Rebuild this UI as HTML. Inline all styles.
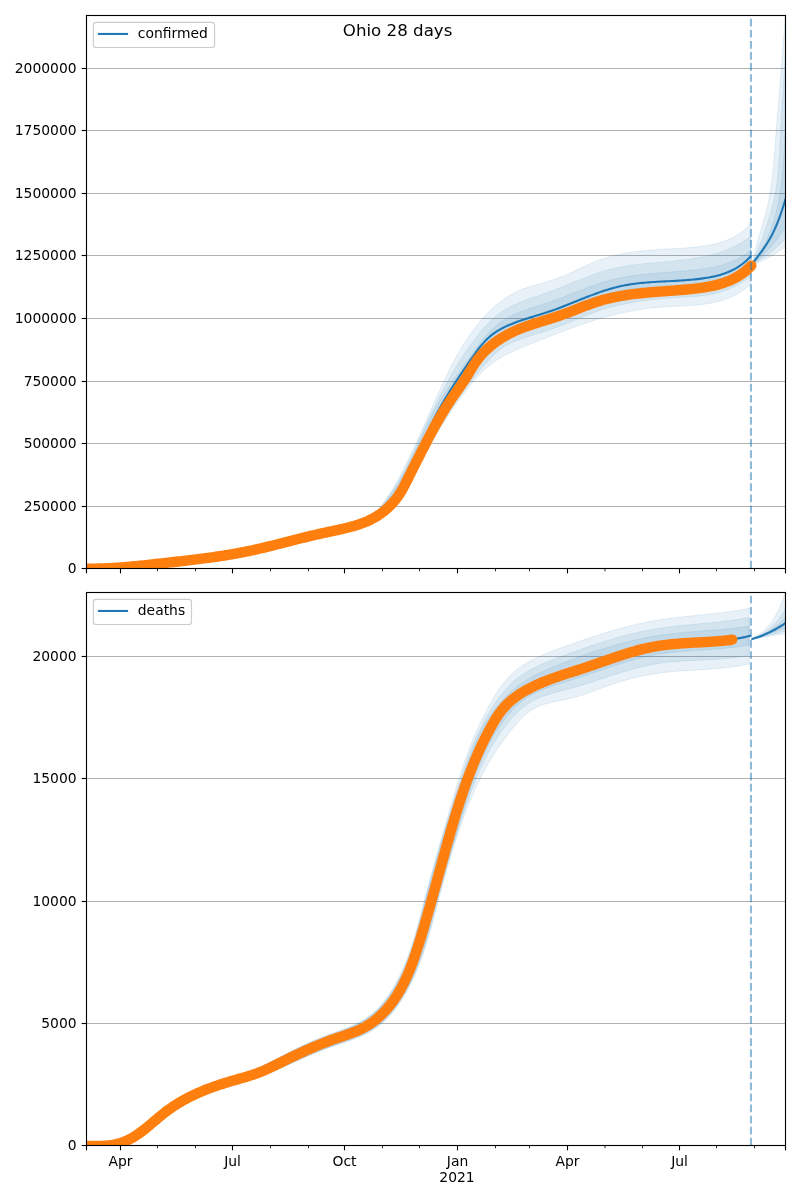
<!DOCTYPE html>
<html><head><meta charset="utf-8"><title>Ohio 28 days</title>
<style>
html,body{margin:0;padding:0;background:#fff;width:800px;height:1200px;overflow:hidden}
svg{display:block;will-change:transform}
.t{font-family:'DejaVu Sans','Liberation Sans',sans-serif;font-size:13.89px;fill:#000}
</style></head><body>
<svg width="800" height="1200" viewBox="0 0 800 1200">
<rect width="800" height="1200" fill="#fff"/>
<defs>
<clipPath id="c1"><rect x="86.5" y="15.5" width="699.0" height="553.0"/></clipPath>
<clipPath id="c2"><rect x="86.5" y="592.5" width="699.0" height="553.0"/></clipPath>
</defs>
<line x1="86.5" y1="506.5" x2="785.5" y2="506.5" stroke="#b0b0b0" stroke-width="1.11"/>
<line x1="86.5" y1="443.5" x2="785.5" y2="443.5" stroke="#b0b0b0" stroke-width="1.11"/>
<line x1="86.5" y1="381.5" x2="785.5" y2="381.5" stroke="#b0b0b0" stroke-width="1.11"/>
<line x1="86.5" y1="318.5" x2="785.5" y2="318.5" stroke="#b0b0b0" stroke-width="1.11"/>
<line x1="86.5" y1="255.5" x2="785.5" y2="255.5" stroke="#b0b0b0" stroke-width="1.11"/>
<line x1="86.5" y1="193.5" x2="785.5" y2="193.5" stroke="#b0b0b0" stroke-width="1.11"/>
<line x1="86.5" y1="130.5" x2="785.5" y2="130.5" stroke="#b0b0b0" stroke-width="1.11"/>
<line x1="86.5" y1="68.5" x2="785.5" y2="68.5" stroke="#b0b0b0" stroke-width="1.11"/>
<g clip-path="url(#c1)"><path d="M360.00,526.50 L361.76,525.62 L363.45,524.65 L365.07,523.59 L366.63,522.45 L368.13,521.23 L369.58,519.95 L370.98,518.60 L372.34,517.20 L373.66,515.75 L374.94,514.25 L376.19,512.72 L377.42,511.15 L378.64,509.56 L379.83,507.95 L381.02,506.32 L382.19,504.69 L383.36,503.04 L384.52,501.38 L385.67,499.72 L386.81,498.04 L387.93,496.36 L389.04,494.67 L390.14,492.96 L391.22,491.25 L392.28,489.53 L393.33,487.81 L394.36,486.07 L395.38,484.33 L396.38,482.58 L397.37,480.82 L398.34,479.06 L399.30,477.29 L400.25,475.52 L401.19,473.74 L402.12,471.96 L403.04,470.18 L403.94,468.39 L404.84,466.59 L405.74,464.80 L406.62,463.00 L407.50,461.20 L408.37,459.39 L409.24,457.59 L410.10,455.78 L410.96,453.97 L411.81,452.17 L412.66,450.36 L413.51,448.54 L414.35,446.73 L415.19,444.92 L416.02,443.10 L416.85,441.29 L417.68,439.47 L418.50,437.65 L419.33,435.83 L420.15,434.01 L420.97,432.19 L421.78,430.36 L422.60,428.54 L423.41,426.72 L424.22,424.89 L425.03,423.06 L425.84,421.23 L426.65,419.41 L427.47,417.58 L428.28,415.75 L429.09,413.91 L429.90,412.08 L430.71,410.25 L431.52,408.42 L432.33,406.58 L433.15,404.75 L433.97,402.91 L434.78,401.08 L435.60,399.24 L436.43,397.41 L437.25,395.57 L438.08,393.73 L438.91,391.89 L439.75,390.06 L440.58,388.22 L441.43,386.38 L442.27,384.55 L443.13,382.72 L443.98,380.89 L444.85,379.06 L445.72,377.23 L446.59,375.41 L447.48,373.59 L448.37,371.78 L449.27,369.97 L450.17,368.16 L451.09,366.36 L452.01,364.57 L452.94,362.78 L453.88,361.00 L454.84,359.22 L455.80,357.45 L456.77,355.69 L457.76,353.93 L458.75,352.19 L459.76,350.45 L460.78,348.72 L461.81,347.00 L462.86,345.29 L463.92,343.59 L464.99,341.90 L466.08,340.22 L467.18,338.55 L468.29,336.90 L469.43,335.25 L470.57,333.62 L471.74,332.00 L472.92,330.39 L474.11,328.80 L475.33,327.21 L476.56,325.65 L477.81,324.10 L479.07,322.56 L480.36,321.04 L481.67,319.53 L482.99,318.04 L484.34,316.56 L485.70,315.10 L487.09,313.66 L488.49,312.24 L489.92,310.83 L491.37,309.44 L492.84,308.08 L494.34,306.73 L495.85,305.41 L497.39,304.11 L498.95,302.84 L500.53,301.60 L502.13,300.39 L503.76,299.21 L505.41,298.06 L507.08,296.95 L508.77,295.88 L510.49,294.85 L512.22,293.86 L513.98,292.91 L515.77,292.00 L517.57,291.14 L519.40,290.33 L521.25,289.57 L523.12,288.86 L525.01,288.18 L526.91,287.54 L528.83,286.93 L530.76,286.35 L532.69,285.79 L534.63,285.24 L536.57,284.70 L538.51,284.16 L540.44,283.62 L542.37,283.07 L544.29,282.52 L546.21,281.96 L548.12,281.38 L550.03,280.78 L551.93,280.17 L553.83,279.54 L555.71,278.89 L557.59,278.22 L559.47,277.51 L561.34,276.78 L563.20,276.03 L565.06,275.25 L566.92,274.45 L568.77,273.63 L570.61,272.79 L572.46,271.94 L574.30,271.08 L576.14,270.22 L577.98,269.35 L579.82,268.48 L581.66,267.61 L583.50,266.75 L585.34,265.89 L587.18,265.05 L589.03,264.21 L590.88,263.39 L592.73,262.59 L594.59,261.81 L596.46,261.06 L598.33,260.33 L600.20,259.63 L602.09,258.96 L603.98,258.33 L605.87,257.72 L607.78,257.15 L609.69,256.60 L611.60,256.08 L613.53,255.59 L615.45,255.13 L617.39,254.69 L619.33,254.27 L621.27,253.88 L623.22,253.51 L625.18,253.16 L627.14,252.83 L629.10,252.52 L631.07,252.23 L633.04,251.96 L635.02,251.70 L637.00,251.46 L638.99,251.23 L640.97,251.02 L642.97,250.82 L644.96,250.63 L646.96,250.45 L648.96,250.29 L650.96,250.13 L652.97,249.98 L654.98,249.84 L656.99,249.70 L659.00,249.57 L661.02,249.44 L663.04,249.32 L665.05,249.20 L667.07,249.08 L669.09,248.96 L671.11,248.84 L673.14,248.72 L675.16,248.60 L677.18,248.47 L679.21,248.34 L681.23,248.21 L683.25,248.07 L685.28,247.92 L687.30,247.76 L689.32,247.60 L691.34,247.43 L693.36,247.24 L695.38,247.04 L697.39,246.83 L699.40,246.60 L701.41,246.34 L703.40,246.07 L705.39,245.77 L707.37,245.45 L709.34,245.10 L711.30,244.72 L713.25,244.31 L715.18,243.86 L717.11,243.38 L719.01,242.86 L720.90,242.30 L722.77,241.70 L724.63,241.05 L726.47,240.36 L728.28,239.61 L730.08,238.82 L731.85,237.98 L733.60,237.08 L735.32,236.12 L737.02,235.11 L738.69,234.03 L740.34,232.89 L741.96,231.69 L743.54,230.42 L745.10,229.08 L746.63,227.67 L748.12,226.19 L749.58,224.63 L751.00,223.00 L751.00,284.00 L749.40,285.46 L747.77,286.86 L746.13,288.18 L744.46,289.44 L742.77,290.64 L741.07,291.78 L739.34,292.85 L737.60,293.87 L735.84,294.83 L734.06,295.73 L732.26,296.58 L730.45,297.38 L728.63,298.13 L726.79,298.84 L724.93,299.49 L723.06,300.11 L721.18,300.68 L719.28,301.21 L717.38,301.70 L715.46,302.16 L713.53,302.58 L711.59,302.96 L709.64,303.32 L707.68,303.65 L705.71,303.95 L703.73,304.22 L701.75,304.47 L699.75,304.69 L697.76,304.90 L695.75,305.08 L693.74,305.25 L691.72,305.41 L689.70,305.55 L687.68,305.68 L685.65,305.80 L683.62,305.91 L681.59,306.02 L679.56,306.12 L677.52,306.22 L675.49,306.32 L673.45,306.42 L671.42,306.53 L669.38,306.64 L667.35,306.75 L665.32,306.87 L663.29,307.01 L661.27,307.15 L659.25,307.31 L657.23,307.49 L655.22,307.68 L653.21,307.88 L651.20,308.10 L649.20,308.34 L647.21,308.58 L645.21,308.85 L643.22,309.12 L641.24,309.42 L639.26,309.72 L637.28,310.04 L635.31,310.37 L633.33,310.72 L631.37,311.08 L629.40,311.45 L627.44,311.84 L625.48,312.23 L623.53,312.65 L621.58,313.07 L619.63,313.51 L617.68,313.96 L615.74,314.42 L613.80,314.89 L611.86,315.38 L609.93,315.88 L608.00,316.39 L606.07,316.91 L604.14,317.45 L602.22,317.99 L600.30,318.55 L598.38,319.12 L596.46,319.70 L594.54,320.29 L592.63,320.89 L590.72,321.50 L588.81,322.12 L586.91,322.75 L585.00,323.38 L583.10,324.03 L581.20,324.68 L579.30,325.35 L577.40,326.02 L575.50,326.69 L573.61,327.38 L571.71,328.07 L569.82,328.76 L567.93,329.46 L566.04,330.17 L564.15,330.88 L562.26,331.60 L560.37,332.32 L558.49,333.05 L556.60,333.78 L554.71,334.51 L552.83,335.24 L550.94,335.98 L549.06,336.72 L547.17,337.46 L545.29,338.20 L543.40,338.95 L541.52,339.69 L539.64,340.44 L537.75,341.18 L535.87,341.93 L533.98,342.67 L532.10,343.42 L530.22,344.16 L528.33,344.91 L526.46,345.67 L524.58,346.42 L522.72,347.19 L520.85,347.97 L519.00,348.75 L517.16,349.55 L515.32,350.36 L513.50,351.19 L511.68,352.03 L509.88,352.89 L508.10,353.77 L506.33,354.68 L504.58,355.60 L502.84,356.55 L501.12,357.53 L499.43,358.53 L497.75,359.56 L496.10,360.62 L494.46,361.72 L492.86,362.85 L491.27,364.01 L489.72,365.21 L488.19,366.45 L486.68,367.73 L485.21,369.04 L483.76,370.40 L482.34,371.78 L480.93,373.19 L479.55,374.64 L478.19,376.10 L476.85,377.60 L475.52,379.11 L474.21,380.64 L472.91,382.19 L471.63,383.75 L470.36,385.32 L469.09,386.90 L467.84,388.49 L466.59,390.09 L465.35,391.69 L464.11,393.29 L462.89,394.90 L461.67,396.52 L460.46,398.14 L459.25,399.76 L458.06,401.39 L456.87,403.03 L455.69,404.67 L454.52,406.31 L453.36,407.96 L452.20,409.62 L451.06,411.28 L449.92,412.95 L448.79,414.62 L447.68,416.29 L446.57,417.98 L445.47,419.67 L444.38,421.36 L443.30,423.06 L442.23,424.76 L441.17,426.47 L440.12,428.19 L439.08,429.91 L438.05,431.64 L437.03,433.37 L436.02,435.11 L435.02,436.86 L434.03,438.61 L433.05,440.36 L432.07,442.12 L431.10,443.88 L430.14,445.64 L429.18,447.41 L428.22,449.18 L427.27,450.95 L426.32,452.72 L425.37,454.49 L424.42,456.27 L423.47,458.04 L422.52,459.81 L421.57,461.58 L420.62,463.35 L419.66,465.12 L418.69,466.89 L417.72,468.65 L416.74,470.41 L415.76,472.17 L414.77,473.92 L413.77,475.67 L412.76,477.41 L411.73,479.15 L410.70,480.88 L409.66,482.60 L408.60,484.32 L407.52,486.03 L406.44,487.73 L405.33,489.41 L404.21,491.09 L403.07,492.75 L401.91,494.39 L400.73,496.02 L399.53,497.63 L398.31,499.22 L397.07,500.78 L395.80,502.33 L394.51,503.84 L393.19,505.34 L391.85,506.80 L390.48,508.24 L389.07,509.64 L387.65,511.02 L386.19,512.36 L384.69,513.67 L383.17,514.94 L381.61,516.17 L380.02,517.36 L378.40,518.51 L376.73,519.63 L375.04,520.69 L373.30,521.72 L371.52,522.69 L369.71,523.62 L367.85,524.50 L365.95,525.33 L364.01,526.11 L362.03,526.83 L360.00,527.50 Z" fill="#1f77b4" fill-opacity="0.1" stroke="#1f77b4" stroke-opacity="0.1" stroke-width="1.0" stroke-linejoin="round"/>
<path d="M360.00,526.50 L361.97,525.86 L363.82,525.06 L365.54,524.13 L367.16,523.06 L368.69,521.89 L370.13,520.61 L371.51,519.24 L372.82,517.79 L374.09,516.28 L375.31,514.72 L376.51,513.11 L377.68,511.47 L378.85,509.81 L380.01,508.14 L381.18,506.47 L382.37,504.81 L383.57,503.17 L384.79,501.53 L386.00,499.89 L387.22,498.26 L388.43,496.62 L389.62,494.99 L390.81,493.34 L391.97,491.69 L393.11,490.03 L394.22,488.36 L395.30,486.67 L396.36,484.97 L397.39,483.27 L398.40,481.55 L399.39,479.82 L400.36,478.08 L401.31,476.33 L402.24,474.57 L403.16,472.80 L404.07,471.03 L404.96,469.25 L405.85,467.47 L406.72,465.67 L407.59,463.88 L408.46,462.08 L409.32,460.27 L410.18,458.46 L411.03,456.65 L411.89,454.83 L412.74,453.02 L413.59,451.20 L414.44,449.37 L415.29,447.55 L416.14,445.72 L416.99,443.89 L417.84,442.06 L418.68,440.23 L419.53,438.40 L420.38,436.57 L421.23,434.74 L422.08,432.90 L422.93,431.07 L423.78,429.24 L424.63,427.41 L425.49,425.58 L426.34,423.75 L427.20,421.92 L428.06,420.09 L428.92,418.27 L429.79,416.44 L430.66,414.62 L431.53,412.81 L432.40,410.99 L433.28,409.18 L434.16,407.37 L435.05,405.56 L435.94,403.76 L436.83,401.96 L437.73,400.17 L438.63,398.38 L439.54,396.59 L440.45,394.81 L441.37,393.04 L442.29,391.27 L443.22,389.50 L444.16,387.74 L445.10,385.99 L446.05,384.24 L447.00,382.49 L447.96,380.75 L448.93,379.02 L449.91,377.29 L450.89,375.56 L451.89,373.84 L452.89,372.12 L453.90,370.41 L454.92,368.70 L455.95,367.00 L456.99,365.30 L458.03,363.61 L459.09,361.92 L460.16,360.23 L461.24,358.55 L462.33,356.88 L463.43,355.20 L464.54,353.54 L465.67,351.87 L466.80,350.21 L467.95,348.56 L469.11,346.91 L470.28,345.26 L471.47,343.62 L472.67,341.98 L473.88,340.34 L475.11,338.71 L476.35,337.09 L477.61,335.48 L478.88,333.88 L480.17,332.30 L481.48,330.73 L482.81,329.18 L484.15,327.65 L485.52,326.15 L486.90,324.67 L488.31,323.21 L489.74,321.79 L491.19,320.40 L492.66,319.04 L494.16,317.71 L495.68,316.43 L497.23,315.18 L498.81,313.98 L500.41,312.82 L502.04,311.71 L503.69,310.64 L505.37,309.61 L507.07,308.62 L508.79,307.67 L510.54,306.75 L512.31,305.86 L514.09,305.01 L515.89,304.19 L517.71,303.39 L519.54,302.61 L521.39,301.86 L523.25,301.12 L525.12,300.41 L527.00,299.71 L528.89,299.02 L530.78,298.34 L532.69,297.68 L534.60,297.02 L536.51,296.36 L538.43,295.70 L540.34,295.05 L542.26,294.39 L544.18,293.73 L546.09,293.06 L548.00,292.39 L549.91,291.70 L551.81,291.00 L553.71,290.29 L555.60,289.57 L557.49,288.83 L559.37,288.09 L561.25,287.35 L563.13,286.59 L565.00,285.83 L566.87,285.07 L568.74,284.31 L570.61,283.54 L572.47,282.77 L574.34,282.01 L576.20,281.25 L578.07,280.49 L579.93,279.74 L581.80,278.99 L583.67,278.25 L585.53,277.52 L587.41,276.80 L589.28,276.09 L591.16,275.39 L593.04,274.70 L594.92,274.03 L596.81,273.38 L598.70,272.74 L600.60,272.12 L602.50,271.52 L604.41,270.95 L606.32,270.39 L608.24,269.86 L610.17,269.35 L612.11,268.86 L614.05,268.40 L616.00,267.97 L617.95,267.55 L619.92,267.16 L621.88,266.79 L623.86,266.44 L625.84,266.10 L627.82,265.78 L629.81,265.48 L631.80,265.20 L633.80,264.92 L635.80,264.67 L637.80,264.42 L639.81,264.19 L641.81,263.96 L643.83,263.75 L645.84,263.54 L647.86,263.34 L649.87,263.15 L651.89,262.96 L653.91,262.78 L655.93,262.60 L657.95,262.42 L659.97,262.25 L661.99,262.07 L664.01,261.89 L666.03,261.72 L668.05,261.54 L670.06,261.35 L672.08,261.16 L674.09,260.97 L676.10,260.77 L678.11,260.56 L680.11,260.35 L682.11,260.12 L684.11,259.88 L686.10,259.64 L688.09,259.38 L690.07,259.10 L692.05,258.81 L694.03,258.51 L696.00,258.19 L697.96,257.85 L699.91,257.50 L701.87,257.12 L703.81,256.72 L705.75,256.31 L707.68,255.87 L709.60,255.40 L711.51,254.92 L713.42,254.40 L715.31,253.86 L717.20,253.30 L719.08,252.70 L720.95,252.08 L722.81,251.42 L724.66,250.74 L726.50,250.02 L728.33,249.27 L730.15,248.48 L731.96,247.66 L733.75,246.80 L735.54,245.90 L737.31,244.97 L739.07,244.00 L740.81,242.98 L742.55,241.93 L744.27,240.83 L745.97,239.69 L747.66,238.51 L749.34,237.28 L751.00,236.00 L751.00,276.00 L749.36,277.20 L747.70,278.38 L746.02,279.53 L744.32,280.66 L742.60,281.75 L740.86,282.81 L739.10,283.84 L737.33,284.83 L735.54,285.79 L733.73,286.71 L731.91,287.60 L730.07,288.44 L728.22,289.24 L726.35,289.99 L724.48,290.70 L722.59,291.37 L720.69,291.99 L718.77,292.55 L716.85,293.07 L714.92,293.55 L712.98,293.98 L711.03,294.37 L709.07,294.72 L707.11,295.04 L705.14,295.33 L703.16,295.58 L701.18,295.82 L699.19,296.02 L697.19,296.21 L695.20,296.38 L693.19,296.53 L691.19,296.67 L689.18,296.80 L687.17,296.92 L685.15,297.03 L683.14,297.15 L681.13,297.26 L679.11,297.38 L677.10,297.51 L675.08,297.63 L673.07,297.77 L671.05,297.91 L669.04,298.06 L667.03,298.21 L665.02,298.37 L663.01,298.54 L661.00,298.72 L658.99,298.91 L656.98,299.10 L654.98,299.31 L652.97,299.52 L650.97,299.75 L648.97,299.98 L646.97,300.23 L644.98,300.49 L642.99,300.76 L641.00,301.04 L639.01,301.33 L637.02,301.64 L635.04,301.96 L633.06,302.29 L631.09,302.64 L629.11,303.00 L627.15,303.38 L625.18,303.77 L623.22,304.18 L621.26,304.60 L619.31,305.04 L617.36,305.50 L615.41,305.97 L613.47,306.46 L611.53,306.97 L609.60,307.50 L607.68,308.04 L605.75,308.61 L603.84,309.19 L601.92,309.80 L600.02,310.43 L598.12,311.07 L596.22,311.74 L594.33,312.42 L592.44,313.12 L590.56,313.83 L588.68,314.55 L586.80,315.29 L584.93,316.03 L583.06,316.78 L581.19,317.54 L579.32,318.30 L577.45,319.06 L575.59,319.83 L573.72,320.59 L571.86,321.35 L569.99,322.11 L568.12,322.86 L566.25,323.60 L564.38,324.33 L562.51,325.05 L560.64,325.76 L558.76,326.46 L556.88,327.15 L555.00,327.84 L553.11,328.51 L551.23,329.18 L549.33,329.83 L547.44,330.48 L545.54,331.12 L543.64,331.76 L541.73,332.38 L539.82,333.00 L537.90,333.61 L535.98,334.22 L534.06,334.82 L532.13,335.41 L530.20,336.01 L528.27,336.61 L526.34,337.22 L524.43,337.84 L522.51,338.47 L520.62,339.13 L518.73,339.81 L516.86,340.52 L515.01,341.26 L513.18,342.03 L511.38,342.85 L509.60,343.72 L507.86,344.63 L506.14,345.60 L504.46,346.62 L502.81,347.70 L501.20,348.84 L499.62,350.03 L498.07,351.26 L496.55,352.54 L495.06,353.87 L493.59,355.23 L492.15,356.62 L490.73,358.05 L489.33,359.50 L487.95,360.98 L486.59,362.48 L485.24,364.00 L483.91,365.53 L482.59,367.07 L481.28,368.62 L479.98,370.17 L478.69,371.73 L477.40,373.30 L476.13,374.86 L474.87,376.43 L473.61,378.01 L472.37,379.59 L471.13,381.17 L469.90,382.76 L468.69,384.36 L467.47,385.96 L466.27,387.56 L465.08,389.17 L463.89,390.78 L462.72,392.40 L461.55,394.02 L460.38,395.64 L459.23,397.28 L458.09,398.91 L456.95,400.55 L455.82,402.20 L454.70,403.85 L453.58,405.51 L452.47,407.17 L451.37,408.84 L450.28,410.51 L449.20,412.19 L448.12,413.87 L447.05,415.56 L445.98,417.25 L444.93,418.95 L443.88,420.66 L442.83,422.37 L441.80,424.08 L440.77,425.81 L439.74,427.53 L438.73,429.27 L437.71,431.01 L436.71,432.75 L435.71,434.50 L434.72,436.26 L433.73,438.02 L432.75,439.79 L431.78,441.57 L430.81,443.35 L429.84,445.13 L428.89,446.93 L427.93,448.72 L426.98,450.52 L426.03,452.33 L425.08,454.13 L424.13,455.94 L423.18,457.74 L422.23,459.54 L421.28,461.35 L420.32,463.15 L419.36,464.94 L418.40,466.73 L417.43,468.52 L416.45,470.30 L415.46,472.07 L414.47,473.84 L413.47,475.60 L412.46,477.35 L411.43,479.08 L410.40,480.81 L409.35,482.52 L408.29,484.22 L407.21,485.91 L406.12,487.58 L405.01,489.24 L403.89,490.88 L402.75,492.51 L401.58,494.11 L400.40,495.70 L399.20,497.27 L397.98,498.81 L396.74,500.34 L395.47,501.84 L394.18,503.32 L392.86,504.77 L391.52,506.21 L390.15,507.61 L388.75,508.99 L387.33,510.34 L385.88,511.66 L384.39,512.95 L382.88,514.22 L381.33,515.45 L379.76,516.65 L378.14,517.81 L376.50,518.95 L374.82,520.05 L373.10,521.11 L371.35,522.14 L369.55,523.13 L367.72,524.08 L365.85,525.00 L363.94,525.87 L361.99,526.71 L360.00,527.50 Z" fill="#1f77b4" fill-opacity="0.1" stroke="#1f77b4" stroke-opacity="0.1" stroke-width="1.0" stroke-linejoin="round"/>
<path d="M360.00,526.50 L361.87,525.77 L363.65,524.93 L365.36,523.99 L367.00,522.94 L368.57,521.80 L370.09,520.59 L371.55,519.29 L372.97,517.93 L374.34,516.51 L375.67,515.03 L376.97,513.51 L378.25,511.95 L379.50,510.36 L380.74,508.75 L381.96,507.12 L383.18,505.49 L384.40,503.85 L385.61,502.20 L386.81,500.55 L388.00,498.89 L389.17,497.22 L390.34,495.55 L391.49,493.88 L392.63,492.19 L393.74,490.51 L394.84,488.82 L395.93,487.12 L396.99,485.42 L398.04,483.72 L399.07,482.00 L400.08,480.29 L401.08,478.56 L402.07,476.84 L403.04,475.10 L404.00,473.36 L404.94,471.61 L405.88,469.85 L406.80,468.09 L407.71,466.32 L408.62,464.55 L409.51,462.76 L410.40,460.97 L411.28,459.17 L412.15,457.36 L413.02,455.55 L413.88,453.73 L414.73,451.90 L415.58,450.07 L416.43,448.24 L417.28,446.40 L418.12,444.56 L418.97,442.72 L419.81,440.88 L420.65,439.03 L421.50,437.19 L422.35,435.34 L423.20,433.50 L424.05,431.66 L424.91,429.82 L425.77,427.99 L426.64,426.16 L427.51,424.33 L428.39,422.51 L429.28,420.70 L430.18,418.89 L431.09,417.09 L432.01,415.30 L432.94,413.51 L433.88,411.74 L434.83,409.98 L435.80,408.22 L436.78,406.48 L437.77,404.75 L438.78,403.02 L439.79,401.31 L440.82,399.60 L441.86,397.91 L442.90,396.21 L443.96,394.53 L445.03,392.85 L446.11,391.18 L447.20,389.52 L448.29,387.85 L449.39,386.20 L450.50,384.55 L451.62,382.90 L452.75,381.25 L453.88,379.60 L455.02,377.96 L456.16,376.32 L457.31,374.68 L458.46,373.04 L459.62,371.40 L460.78,369.76 L461.95,368.12 L463.12,366.48 L464.29,364.83 L465.46,363.18 L466.64,361.53 L467.82,359.88 L469.00,358.22 L470.18,356.56 L471.37,354.89 L472.55,353.23 L473.74,351.56 L474.94,349.90 L476.15,348.25 L477.36,346.60 L478.58,344.97 L479.82,343.34 L481.07,341.74 L482.33,340.15 L483.61,338.58 L484.91,337.04 L486.23,335.51 L487.56,334.02 L488.92,332.55 L490.30,331.12 L491.70,329.72 L493.13,328.36 L494.59,327.03 L496.07,325.75 L497.58,324.50 L499.13,323.31 L500.71,322.16 L502.32,321.05 L503.96,320.00 L505.63,318.99 L507.33,318.02 L509.06,317.08 L510.81,316.19 L512.58,315.33 L514.38,314.50 L516.20,313.70 L518.04,312.92 L519.89,312.18 L521.76,311.45 L523.65,310.75 L525.55,310.06 L527.46,309.39 L529.38,308.73 L531.31,308.09 L533.25,307.45 L535.19,306.82 L537.14,306.19 L539.08,305.57 L541.03,304.95 L542.98,304.32 L544.93,303.68 L546.87,303.04 L548.81,302.39 L550.74,301.73 L552.67,301.06 L554.59,300.37 L556.50,299.67 L558.40,298.96 L560.30,298.25 L562.20,297.52 L564.09,296.80 L565.97,296.06 L567.86,295.32 L569.73,294.58 L571.61,293.84 L573.48,293.10 L575.36,292.36 L577.23,291.62 L579.09,290.88 L580.96,290.15 L582.83,289.42 L584.70,288.70 L586.57,287.99 L588.44,287.28 L590.31,286.59 L592.19,285.91 L594.07,285.24 L595.95,284.58 L597.83,283.94 L599.72,283.32 L601.61,282.71 L603.51,282.12 L605.41,281.55 L607.32,281.00 L609.23,280.48 L611.15,279.97 L613.08,279.49 L615.01,279.03 L616.96,278.59 L618.90,278.18 L620.85,277.78 L622.81,277.40 L624.78,277.04 L626.74,276.70 L628.72,276.37 L630.70,276.06 L632.68,275.77 L634.67,275.49 L636.66,275.22 L638.65,274.96 L640.65,274.72 L642.65,274.49 L644.66,274.27 L646.67,274.06 L648.68,273.86 L650.69,273.67 L652.71,273.48 L654.72,273.30 L656.74,273.13 L658.77,272.96 L660.79,272.79 L662.81,272.63 L664.84,272.47 L666.86,272.31 L668.89,272.16 L670.91,272.00 L672.94,271.85 L674.96,271.69 L676.99,271.53 L679.01,271.37 L681.04,271.20 L683.06,271.03 L685.08,270.86 L687.10,270.67 L689.12,270.49 L691.13,270.29 L693.15,270.09 L695.16,269.87 L697.16,269.64 L699.17,269.40 L701.16,269.15 L703.16,268.87 L705.14,268.58 L707.12,268.26 L709.09,267.93 L711.06,267.57 L713.01,267.18 L714.96,266.76 L716.89,266.32 L718.82,265.84 L720.73,265.34 L722.64,264.79 L724.53,264.21 L726.41,263.60 L728.27,262.94 L730.12,262.24 L731.96,261.50 L733.78,260.71 L735.58,259.88 L737.37,259.00 L739.14,258.07 L740.89,257.08 L742.63,256.05 L744.34,254.96 L746.04,253.81 L747.71,252.60 L749.37,251.33 L751.00,250.00 L751.00,262.00 L749.59,263.66 L748.15,265.24 L746.67,266.73 L745.16,268.14 L743.61,269.47 L742.03,270.73 L740.42,271.92 L738.79,273.03 L737.12,274.08 L735.42,275.06 L733.70,275.98 L731.96,276.84 L730.18,277.63 L728.39,278.37 L726.57,279.06 L724.73,279.69 L722.87,280.27 L720.99,280.81 L719.10,281.30 L717.18,281.75 L715.25,282.16 L713.30,282.53 L711.34,282.86 L709.36,283.16 L707.38,283.43 L705.38,283.67 L703.37,283.89 L701.35,284.08 L699.32,284.25 L697.29,284.40 L695.25,284.53 L693.20,284.64 L691.15,284.75 L689.10,284.84 L687.04,284.93 L684.99,285.01 L682.93,285.09 L680.87,285.16 L678.82,285.24 L676.76,285.32 L674.71,285.40 L672.67,285.49 L670.62,285.58 L668.58,285.68 L666.54,285.78 L664.50,285.89 L662.47,286.01 L660.44,286.13 L658.41,286.26 L656.38,286.40 L654.36,286.54 L652.34,286.70 L650.33,286.86 L648.32,287.04 L646.31,287.23 L644.30,287.42 L642.30,287.63 L640.31,287.86 L638.31,288.09 L636.32,288.34 L634.34,288.61 L632.36,288.88 L630.38,289.18 L628.41,289.49 L626.44,289.81 L624.48,290.16 L622.52,290.52 L620.57,290.90 L618.62,291.29 L616.67,291.71 L614.73,292.15 L612.80,292.60 L610.87,293.08 L608.95,293.58 L607.03,294.10 L605.12,294.64 L603.21,295.21 L601.31,295.80 L599.41,296.41 L597.52,297.05 L595.63,297.71 L593.75,298.38 L591.87,299.08 L589.99,299.79 L588.12,300.51 L586.25,301.24 L584.37,301.99 L582.50,302.74 L580.63,303.49 L578.75,304.25 L576.88,305.00 L575.00,305.76 L573.11,306.51 L571.23,307.25 L569.33,307.99 L567.44,308.72 L565.53,309.43 L563.62,310.13 L561.70,310.82 L559.77,311.48 L557.84,312.13 L555.90,312.76 L553.95,313.37 L551.99,313.97 L550.03,314.56 L548.07,315.14 L546.11,315.72 L544.15,316.29 L542.18,316.87 L540.23,317.44 L538.27,318.02 L536.32,318.61 L534.38,319.21 L532.44,319.82 L530.51,320.44 L528.59,321.09 L526.68,321.75 L524.79,322.43 L522.91,323.14 L521.04,323.88 L519.19,324.65 L517.36,325.45 L515.55,326.28 L513.75,327.15 L511.98,328.05 L510.22,328.98 L508.49,329.94 L506.78,330.94 L505.09,331.97 L503.42,333.03 L501.78,334.13 L500.16,335.27 L498.57,336.44 L497.00,337.64 L495.46,338.88 L493.95,340.15 L492.47,341.46 L491.02,342.80 L489.59,344.18 L488.20,345.59 L486.84,347.04 L485.51,348.53 L484.21,350.05 L482.95,351.60 L481.70,353.19 L480.48,354.79 L479.28,356.41 L478.10,358.05 L476.92,359.69 L475.76,361.35 L474.60,363.00 L473.46,364.66 L472.31,366.32 L471.18,367.99 L470.05,369.66 L468.94,371.34 L467.82,373.01 L466.72,374.69 L465.62,376.38 L464.53,378.07 L463.44,379.76 L462.37,381.46 L461.29,383.16 L460.23,384.86 L459.17,386.57 L458.12,388.28 L457.07,389.99 L456.03,391.71 L454.99,393.43 L453.96,395.15 L452.94,396.88 L451.92,398.61 L450.91,400.35 L449.90,402.09 L448.90,403.83 L447.90,405.57 L446.91,407.32 L445.92,409.07 L444.94,410.83 L443.96,412.59 L442.98,414.35 L442.01,416.12 L441.05,417.89 L440.09,419.66 L439.13,421.43 L438.18,423.21 L437.23,425.00 L436.28,426.78 L435.34,428.57 L434.40,430.36 L433.47,432.16 L432.54,433.96 L431.61,435.76 L430.69,437.57 L429.76,439.37 L428.84,441.19 L427.93,443.00 L427.02,444.82 L426.10,446.64 L425.19,448.46 L424.28,450.28 L423.37,452.11 L422.46,453.93 L421.54,455.75 L420.62,457.57 L419.70,459.38 L418.78,461.19 L417.84,463.00 L416.91,464.80 L415.96,466.60 L415.01,468.39 L414.05,470.17 L413.08,471.95 L412.10,473.72 L411.11,475.48 L410.11,477.22 L409.10,478.96 L408.07,480.69 L407.03,482.40 L405.98,484.10 L404.91,485.79 L403.82,487.46 L402.72,489.12 L401.60,490.76 L400.46,492.39 L399.30,494.00 L398.12,495.59 L396.93,497.16 L395.71,498.72 L394.47,500.25 L393.20,501.76 L391.91,503.25 L390.60,504.72 L389.26,506.17 L387.90,507.59 L386.51,508.99 L385.09,510.37 L383.64,511.72 L382.17,513.04 L380.66,514.33 L379.13,515.60 L377.56,516.84 L375.96,518.05 L374.33,519.23 L372.66,520.38 L370.96,521.49 L369.23,522.58 L367.46,523.63 L365.65,524.65 L363.80,525.64 L361.92,526.59 L360.00,527.50 Z" fill="#1f77b4" fill-opacity="0.1" stroke="#1f77b4" stroke-opacity="0.1" stroke-width="1.0" stroke-linejoin="round"/>
<path d="M752.50,262.00 L752.92,260.01 L753.36,258.03 L753.82,256.06 L754.29,254.08 L754.78,252.12 L755.28,250.15 L755.80,248.19 L756.33,246.24 L756.86,244.29 L757.41,242.34 L757.96,240.39 L758.52,238.44 L759.09,236.50 L759.65,234.56 L760.22,232.62 L760.79,230.68 L761.36,228.74 L761.92,226.80 L762.49,224.86 L763.04,222.92 L763.60,220.97 L764.14,219.03 L764.68,217.09 L765.20,215.14 L765.71,213.19 L766.22,211.24 L766.70,209.29 L767.17,207.34 L767.63,205.38 L768.06,203.41 L768.48,201.45 L768.88,199.48 L769.26,197.50 L769.63,195.52 L769.98,193.54 L770.31,191.56 L770.62,189.57 L770.93,187.58 L771.22,185.59 L771.49,183.59 L771.75,181.59 L772.00,179.59 L772.25,177.59 L772.47,175.58 L772.69,173.57 L772.90,171.56 L773.11,169.55 L773.30,167.54 L773.49,165.52 L773.67,163.50 L773.84,161.49 L774.01,159.47 L774.18,157.45 L774.34,155.42 L774.50,153.40 L774.65,151.38 L774.81,149.36 L774.96,147.33 L775.11,145.31 L775.26,143.28 L775.41,141.26 L775.57,139.24 L775.72,137.21 L775.88,135.19 L776.04,133.16 L776.20,131.14 L776.36,129.12 L776.52,127.10 L776.69,125.07 L776.85,123.05 L777.02,121.03 L777.19,119.01 L777.35,116.98 L777.52,114.96 L777.69,112.94 L777.86,110.92 L778.02,108.90 L778.19,106.88 L778.36,104.86 L778.53,102.84 L778.70,100.82 L778.86,98.80 L779.03,96.78 L779.19,94.76 L779.36,92.74 L779.52,90.72 L779.69,88.71 L779.85,86.69 L780.02,84.67 L780.18,82.65 L780.34,80.64 L780.50,78.62 L780.66,76.60 L780.82,74.58 L780.98,72.57 L781.14,70.55 L781.30,68.53 L781.46,66.52 L781.62,64.50 L781.78,62.48 L781.94,60.47 L782.10,58.45 L782.26,56.43 L782.41,54.42 L782.57,52.40 L782.73,50.38 L782.88,48.37 L783.04,46.35 L783.20,44.33 L783.35,42.32 L783.51,40.30 L783.66,38.28 L783.82,36.26 L783.98,34.25 L784.13,32.23 L784.29,30.21 L784.44,28.19 L784.60,26.17 L784.75,24.16 L784.91,22.14 L785.07,20.12 L785.22,18.10 L785.38,16.08 L785.53,14.06 L785.69,12.04 L785.84,10.02 L786.00,8.00 L786.00,246.50 L784.26,247.72 L782.51,248.93 L780.74,250.13 L778.96,251.31 L777.17,252.47 L775.37,253.61 L773.55,254.73 L771.72,255.83 L769.87,256.90 L768.01,257.94 L766.13,258.95 L764.24,259.93 L762.32,260.87 L760.39,261.78 L758.45,262.65 L756.48,263.48 L754.50,264.26 L752.50,265.00 Z" fill="#1f77b4" fill-opacity="0.1" stroke="#1f77b4" stroke-opacity="0.1" stroke-width="1.0" stroke-linejoin="round"/>
<path d="M752.50,262.00 L753.39,260.18 L754.25,258.35 L755.09,256.51 L755.91,254.66 L756.71,252.80 L757.50,250.93 L758.27,249.05 L759.02,247.17 L759.76,245.28 L760.48,243.38 L761.19,241.48 L761.90,239.57 L762.58,237.65 L763.26,235.73 L763.93,233.81 L764.59,231.88 L765.24,229.95 L765.88,228.02 L766.51,226.08 L767.13,224.15 L767.75,222.21 L768.36,220.27 L768.97,218.33 L769.56,216.39 L770.15,214.45 L770.73,212.50 L771.30,210.56 L771.85,208.61 L772.38,206.66 L772.89,204.71 L773.38,202.75 L773.85,200.78 L774.29,198.82 L774.70,196.84 L775.08,194.86 L775.45,192.88 L775.78,190.89 L776.10,188.90 L776.39,186.90 L776.67,184.90 L776.92,182.89 L777.17,180.88 L777.39,178.87 L777.60,176.86 L777.80,174.84 L777.99,172.82 L778.17,170.80 L778.33,168.78 L778.50,166.76 L778.65,164.73 L778.80,162.70 L778.95,160.68 L779.09,158.65 L779.23,156.62 L779.37,154.59 L779.50,152.56 L779.62,150.53 L779.75,148.50 L779.87,146.47 L779.99,144.43 L780.11,142.40 L780.23,140.37 L780.34,138.33 L780.45,136.30 L780.57,134.27 L780.68,132.23 L780.79,130.20 L780.90,128.17 L781.01,126.13 L781.12,124.10 L781.23,122.07 L781.34,120.04 L781.45,118.00 L781.56,115.97 L781.68,113.94 L781.79,111.91 L781.91,109.88 L782.03,107.85 L782.15,105.82 L782.27,103.79 L782.39,101.76 L782.51,99.74 L782.64,97.71 L782.76,95.68 L782.89,93.65 L783.02,91.63 L783.14,89.60 L783.27,87.57 L783.40,85.55 L783.53,83.52 L783.66,81.49 L783.79,79.47 L783.92,77.44 L784.05,75.42 L784.18,73.39 L784.31,71.36 L784.45,69.34 L784.58,67.31 L784.71,65.28 L784.84,63.26 L784.97,61.23 L785.10,59.20 L785.23,57.17 L785.36,55.15 L785.49,53.12 L785.62,51.09 L785.75,49.06 L785.87,47.03 L786.00,45.00 L786.00,238.00 L784.54,239.57 L783.05,241.12 L781.55,242.65 L780.01,244.15 L778.46,245.63 L776.88,247.09 L775.28,248.52 L773.66,249.92 L772.01,251.29 L770.35,252.64 L768.66,253.96 L766.95,255.25 L765.21,256.52 L763.46,257.75 L761.69,258.95 L759.89,260.13 L758.07,261.27 L756.24,262.38 L754.38,263.46 L752.50,264.50 Z" fill="#1f77b4" fill-opacity="0.1" stroke="#1f77b4" stroke-opacity="0.1" stroke-width="1.0" stroke-linejoin="round"/>
<path d="M752.50,262.00 L753.80,260.36 L755.07,258.70 L756.30,257.02 L757.49,255.33 L758.64,253.63 L759.76,251.91 L760.85,250.18 L761.90,248.43 L762.92,246.67 L763.90,244.90 L764.85,243.11 L765.77,241.31 L766.66,239.50 L767.52,237.68 L768.34,235.84 L769.14,234.00 L769.91,232.14 L770.65,230.27 L771.36,228.39 L772.05,226.51 L772.71,224.61 L773.34,222.70 L773.95,220.78 L774.53,218.86 L775.10,216.93 L775.63,214.98 L776.15,213.03 L776.64,211.08 L777.11,209.11 L777.56,207.14 L777.99,205.16 L778.40,203.17 L778.79,201.18 L779.16,199.19 L779.52,197.18 L779.85,195.18 L780.17,193.16 L780.48,191.15 L780.77,189.12 L781.04,187.10 L781.30,185.07 L781.55,183.04 L781.79,181.00 L782.01,178.96 L782.22,176.92 L782.42,174.88 L782.61,172.83 L782.79,170.78 L782.96,168.74 L783.12,166.69 L783.27,164.64 L783.42,162.59 L783.55,160.54 L783.69,158.49 L783.81,156.44 L783.94,154.39 L784.06,152.34 L784.17,150.29 L784.28,148.25 L784.39,146.21 L784.50,144.17 L784.60,142.13 L784.71,140.10 L784.81,138.07 L784.92,136.04 L785.03,134.01 L785.13,131.99 L785.25,129.98 L785.36,127.97 L785.48,125.96 L785.60,123.96 L785.73,121.97 L785.86,119.98 L786.00,118.00 L786.00,227.00 L784.80,228.70 L783.60,230.41 L782.38,232.10 L781.16,233.80 L779.92,235.49 L778.67,237.17 L777.41,238.83 L776.13,240.49 L774.83,242.14 L773.52,243.77 L772.18,245.38 L770.83,246.97 L769.45,248.55 L768.05,250.10 L766.63,251.62 L765.18,253.12 L763.70,254.60 L762.20,256.04 L760.66,257.46 L759.10,258.84 L757.50,260.18 L755.87,261.49 L754.20,262.77 L752.50,264.00 Z" fill="#1f77b4" fill-opacity="0.1" stroke="#1f77b4" stroke-opacity="0.1" stroke-width="1.0" stroke-linejoin="round"/>
<path d="M80.00,568.50 L82.03,568.66 L84.06,568.80 L86.08,568.90 L88.10,568.98 L90.12,569.04 L92.13,569.07 L94.14,569.07 L96.15,569.06 L98.16,569.02 L100.17,568.96 L102.17,568.88 L104.17,568.79 L106.17,568.67 L108.17,568.55 L110.17,568.40 L112.16,568.25 L114.16,568.08 L116.15,567.89 L118.15,567.70 L120.14,567.50 L122.13,567.29 L124.12,567.08 L126.11,566.86 L128.11,566.63 L130.10,566.40 L132.09,566.17 L134.08,565.93 L136.07,565.70 L138.07,565.46 L140.06,565.23 L142.05,565.00 L144.05,564.78 L146.05,564.56 L148.05,564.35 L150.04,564.14 L152.04,563.94 L154.05,563.74 L156.05,563.55 L158.05,563.36 L160.06,563.17 L162.06,562.99 L164.07,562.81 L166.07,562.63 L168.08,562.45 L170.08,562.28 L172.09,562.10 L174.09,561.93 L176.10,561.75 L178.11,561.57 L180.11,561.39 L182.12,561.21 L184.12,561.03 L186.13,560.84 L188.13,560.65 L190.13,560.46 L192.14,560.26 L194.14,560.06 L196.14,559.85 L198.14,559.63 L200.14,559.41 L202.13,559.19 L204.13,558.95 L206.12,558.71 L208.11,558.45 L210.11,558.19 L212.09,557.92 L214.08,557.64 L216.07,557.35 L218.05,557.05 L220.03,556.74 L222.01,556.42 L223.98,556.08 L225.96,555.73 L227.93,555.37 L229.90,554.99 L231.87,554.61 L233.83,554.21 L235.79,553.80 L237.75,553.38 L239.71,552.95 L241.67,552.51 L243.62,552.06 L245.58,551.61 L247.53,551.15 L249.48,550.68 L251.43,550.21 L253.38,549.73 L255.33,549.24 L257.28,548.76 L259.22,548.27 L261.17,547.77 L263.11,547.28 L265.06,546.78 L267.01,546.28 L268.95,545.78 L270.90,545.28 L272.84,544.78 L274.79,544.29 L276.73,543.79 L278.68,543.30 L280.63,542.82 L282.58,542.33 L284.53,541.85 L286.48,541.38 L288.43,540.91 L290.38,540.45 L292.34,540.00 L294.29,539.55 L296.25,539.11 L298.21,538.68 L300.17,538.26 L302.14,537.84 L304.10,537.44 L306.07,537.04 L308.04,536.64 L310.01,536.26 L311.99,535.87 L313.97,535.50 L315.95,535.13 L317.93,534.76 L319.92,534.40 L321.91,534.05 L323.90,533.69 L325.90,533.35 L327.90,533.00 L329.90,532.65 L331.90,532.28 L333.89,531.90 L335.88,531.50 L337.86,531.07 L339.83,530.61 L341.78,530.10 L343.73,529.56 L345.65,528.97 L347.57,528.34 L349.46,527.68 L351.34,526.98 L353.21,526.23 L355.05,525.45 L356.88,524.64 L358.69,523.78 L360.49,522.89 L362.26,521.97 L364.01,521.01 L365.74,520.01 L367.45,518.98 L369.14,517.92 L370.81,516.83 L372.45,515.70 L374.07,514.55 L375.67,513.36 L377.24,512.14 L378.79,510.89 L380.31,509.61 L381.80,508.31 L383.27,506.97 L384.72,505.61 L386.13,504.22 L387.52,502.80 L388.87,501.36 L390.20,499.90 L391.50,498.41 L392.77,496.89 L394.01,495.35 L395.22,493.79 L396.41,492.21 L397.58,490.61 L398.72,488.99 L399.83,487.35 L400.93,485.69 L402.00,484.01 L403.05,482.31 L404.08,480.60 L405.10,478.88 L406.09,477.14 L407.07,475.39 L408.03,473.62 L408.98,471.84 L409.92,470.05 L410.84,468.25 L411.75,466.44 L412.65,464.62 L413.54,462.80 L414.42,460.96 L415.29,459.12 L416.15,457.28 L417.01,455.42 L417.86,453.57 L418.71,451.71 L419.55,449.85 L420.39,447.99 L421.23,446.12 L422.07,444.26 L422.90,442.39 L423.74,440.53 L424.58,438.67 L425.43,436.81 L426.27,434.96 L427.13,433.11 L427.98,431.27 L428.85,429.43 L429.72,427.60 L430.60,425.77 L431.49,423.96 L432.39,422.15 L433.30,420.36 L434.21,418.57 L435.14,416.78 L436.08,415.01 L437.02,413.24 L437.98,411.49 L438.94,409.73 L439.91,407.99 L440.89,406.25 L441.88,404.52 L442.87,402.79 L443.88,401.07 L444.89,399.35 L445.91,397.64 L446.93,395.94 L447.97,394.24 L449.01,392.54 L450.06,390.85 L451.11,389.16 L452.17,387.48 L453.24,385.80 L454.32,384.12 L455.40,382.45 L456.49,380.78 L457.58,379.11 L458.68,377.45 L459.78,375.78 L460.89,374.12 L462.01,372.46 L463.13,370.80 L464.26,369.14 L465.39,367.49 L466.53,365.83 L467.67,364.17 L468.81,362.52 L469.96,360.86 L471.12,359.21 L472.27,357.55 L473.44,355.89 L474.61,354.24 L475.78,352.59 L476.98,350.96 L478.19,349.34 L479.42,347.74 L480.67,346.16 L481.94,344.61 L483.25,343.09 L484.59,341.61 L485.96,340.17 L487.37,338.77 L488.82,337.41 L490.31,336.11 L491.85,334.86 L493.44,333.67 L495.07,332.53 L496.73,331.44 L498.43,330.39 L500.16,329.39 L501.92,328.43 L503.70,327.51 L505.51,326.63 L507.33,325.79 L509.17,324.97 L511.02,324.19 L512.88,323.44 L514.74,322.71 L516.62,322.01 L518.51,321.33 L520.40,320.66 L522.30,320.02 L524.20,319.39 L526.11,318.78 L528.02,318.17 L529.94,317.57 L531.86,316.98 L533.78,316.40 L535.71,315.81 L537.63,315.23 L539.55,314.65 L541.48,314.06 L543.40,313.46 L545.32,312.85 L547.23,312.23 L549.15,311.60 L551.06,310.96 L552.96,310.30 L554.86,309.62 L556.76,308.93 L558.65,308.23 L560.54,307.52 L562.43,306.80 L564.31,306.07 L566.19,305.33 L568.07,304.58 L569.95,303.83 L571.83,303.08 L573.70,302.33 L575.58,301.57 L577.45,300.81 L579.32,300.05 L581.20,299.30 L583.07,298.55 L584.95,297.80 L586.82,297.06 L588.70,296.33 L590.58,295.60 L592.45,294.89 L594.34,294.18 L596.22,293.49 L598.11,292.81 L600.00,292.14 L601.89,291.49 L603.79,290.86 L605.69,290.24 L607.59,289.64 L609.50,289.06 L611.41,288.51 L613.33,287.97 L615.25,287.46 L617.18,286.98 L619.12,286.52 L621.06,286.08 L623.01,285.68 L624.96,285.30 L626.92,284.94 L628.88,284.61 L630.85,284.30 L632.83,284.02 L634.81,283.75 L636.79,283.50 L638.78,283.27 L640.77,283.06 L642.77,282.86 L644.76,282.68 L646.77,282.51 L648.77,282.35 L650.78,282.20 L652.79,282.06 L654.80,281.93 L656.82,281.81 L658.84,281.69 L660.86,281.58 L662.88,281.48 L664.90,281.37 L666.92,281.27 L668.94,281.17 L670.96,281.06 L672.99,280.96 L675.01,280.85 L677.03,280.74 L679.05,280.62 L681.08,280.50 L683.10,280.37 L685.11,280.23 L687.13,280.08 L689.15,279.91 L691.16,279.74 L693.17,279.55 L695.18,279.35 L697.19,279.13 L699.19,278.90 L701.19,278.64 L703.18,278.37 L705.17,278.07 L707.16,277.75 L709.13,277.41 L711.09,277.03 L713.05,276.62 L714.99,276.19 L716.92,275.71 L718.84,275.20 L720.74,274.65 L722.62,274.06 L724.49,273.43 L726.34,272.75 L728.17,272.03 L729.97,271.25 L731.76,270.43 L733.52,269.55 L735.25,268.62 L736.97,267.63 L738.65,266.58 L740.30,265.47 L741.93,264.29 L743.53,263.05 L745.09,261.74 L746.62,260.37 L748.12,258.92 L749.58,257.39 L751.00,255.80" fill="none" stroke="#1f77b4" stroke-width="2.08" stroke-linecap="butt" stroke-linejoin="round" />
<path d="M751.30,265.60 L752.44,263.93 L753.61,262.27 L754.80,260.63 L756.01,258.99 L757.24,257.36 L758.46,255.72 L759.69,254.09 L760.91,252.44 L762.12,250.79 L763.30,249.12 L764.47,247.44 L765.60,245.74 L766.71,244.02 L767.79,242.29 L768.85,240.53 L769.87,238.76 L770.86,236.98 L771.82,235.17 L772.75,233.35 L773.65,231.51 L774.51,229.65 L775.35,227.78 L776.16,225.90 L776.95,224.01 L777.72,222.10 L778.46,220.18 L779.18,218.26 L779.89,216.32 L780.58,214.38 L781.25,212.43 L781.91,210.47 L782.56,208.51 L783.19,206.55 L783.82,204.59 L784.45,202.62 L785.06,200.65 L785.68,198.68 L786.29,196.72 L786.90,194.75 L787.51,192.79 L788.12,190.83 L788.74,188.88 L789.37,186.94 L790.00,185.00" fill="none" stroke="#1f77b4" stroke-width="2.08" stroke-linecap="butt" stroke-linejoin="round" />
<path d="M80.00,568.50 L82.01,568.56 L84.03,568.60 L86.04,568.63 L88.05,568.65 L90.06,568.66 L92.07,568.65 L94.08,568.63 L96.09,568.60 L98.09,568.56 L100.10,568.51 L102.10,568.45 L104.11,568.38 L106.11,568.30 L108.11,568.21 L110.12,568.10 L112.12,568.00 L114.12,567.88 L116.12,567.75 L118.12,567.62 L120.12,567.48 L122.12,567.33 L124.11,567.17 L126.11,567.01 L128.11,566.84 L130.11,566.66 L132.10,566.48 L134.10,566.30 L136.10,566.11 L138.09,565.91 L140.09,565.72 L142.08,565.51 L144.08,565.31 L146.08,565.10 L148.07,564.88 L150.07,564.67 L152.06,564.45 L154.06,564.23 L156.05,564.01 L158.05,563.78 L160.05,563.56 L162.04,563.34 L164.04,563.11 L166.04,562.89 L168.03,562.66 L170.03,562.44 L172.03,562.21 L174.02,561.99 L176.02,561.76 L178.02,561.54 L180.02,561.31 L182.01,561.08 L184.01,560.85 L186.01,560.62 L188.01,560.39 L190.00,560.15 L192.00,559.91 L193.99,559.67 L195.99,559.42 L197.98,559.18 L199.98,558.93 L201.97,558.67 L203.96,558.41 L205.95,558.15 L207.94,557.89 L209.93,557.62 L211.92,557.34 L213.91,557.06 L215.89,556.77 L217.88,556.48 L219.86,556.18 L221.84,555.88 L223.83,555.57 L225.81,555.26 L227.78,554.94 L229.76,554.61 L231.74,554.27 L233.71,553.93 L235.68,553.58 L237.65,553.22 L239.62,552.85 L241.59,552.48 L243.55,552.09 L245.51,551.70 L247.47,551.30 L249.43,550.89 L251.39,550.48 L253.34,550.05 L255.30,549.62 L257.25,549.18 L259.20,548.73 L261.15,548.28 L263.10,547.82 L265.04,547.36 L266.99,546.89 L268.93,546.42 L270.88,545.94 L272.82,545.46 L274.77,544.97 L276.71,544.49 L278.65,544.00 L280.60,543.50 L282.54,543.01 L284.48,542.52 L286.43,542.02 L288.37,541.52 L290.31,541.03 L292.26,540.53 L294.20,540.04 L296.15,539.54 L298.10,539.05 L300.05,538.56 L302.00,538.07 L303.95,537.58 L305.90,537.10 L307.86,536.62 L309.81,536.15 L311.77,535.68 L313.73,535.21 L315.69,534.75 L317.66,534.30 L319.62,533.85 L321.59,533.41 L323.56,532.97 L325.54,532.54 L327.51,532.12 L329.49,531.70 L331.47,531.29 L333.45,530.87 L335.42,530.46 L337.40,530.04 L339.37,529.61 L341.34,529.17 L343.30,528.73 L345.26,528.27 L347.21,527.79 L349.15,527.30 L351.09,526.79 L353.01,526.25 L354.92,525.69 L356.83,525.11 L358.72,524.49 L360.59,523.84 L362.46,523.16 L364.30,522.45 L366.14,521.70 L367.95,520.90 L369.75,520.07 L371.52,519.19 L373.28,518.26 L375.02,517.29 L376.74,516.26 L378.43,515.18 L380.10,514.05 L381.74,512.86 L383.36,511.63 L384.94,510.35 L386.49,509.02 L388.01,507.66 L389.49,506.25 L390.93,504.80 L392.33,503.31 L393.69,501.79 L395.00,500.24 L396.27,498.66 L397.48,497.05 L398.64,495.41 L399.75,493.75 L400.81,492.06 L401.82,490.36 L402.79,488.63 L403.73,486.89 L404.64,485.14 L405.54,483.38 L406.43,481.61 L407.31,479.84 L408.20,478.06 L409.09,476.28 L409.98,474.50 L410.87,472.71 L411.77,470.92 L412.67,469.13 L413.57,467.34 L414.47,465.55 L415.38,463.75 L416.28,461.96 L417.19,460.16 L418.10,458.37 L419.01,456.57 L419.92,454.78 L420.83,452.99 L421.75,451.19 L422.66,449.40 L423.58,447.61 L424.50,445.83 L425.42,444.04 L426.34,442.26 L427.26,440.48 L428.19,438.70 L429.13,436.92 L430.06,435.15 L431.01,433.38 L431.95,431.62 L432.91,429.85 L433.86,428.10 L434.83,426.34 L435.80,424.59 L436.78,422.84 L437.76,421.10 L438.76,419.36 L439.76,417.63 L440.77,415.90 L441.79,414.18 L442.81,412.47 L443.85,410.75 L444.90,409.05 L445.96,407.35 L447.03,405.66 L448.10,403.97 L449.20,402.29 L450.30,400.62 L451.42,398.95 L452.54,397.29 L453.68,395.64 L454.83,393.99 L455.98,392.34 L457.14,390.70 L458.29,389.05 L459.45,387.41 L460.60,385.76 L461.74,384.10 L462.87,382.44 L463.99,380.78 L465.09,379.10 L466.18,377.41 L467.24,375.71 L468.29,374.00 L469.33,372.28 L470.36,370.56 L471.39,368.85 L472.44,367.14 L473.50,365.44 L474.59,363.77 L475.71,362.11 L476.87,360.49 L478.08,358.89 L479.33,357.33 L480.61,355.79 L481.94,354.29 L483.31,352.82 L484.71,351.38 L486.15,349.98 L487.63,348.60 L489.13,347.26 L490.67,345.95 L492.23,344.67 L493.82,343.43 L495.44,342.21 L497.09,341.04 L498.75,339.89 L500.44,338.78 L502.15,337.70 L503.88,336.66 L505.63,335.65 L507.39,334.68 L509.17,333.74 L510.96,332.83 L512.76,331.96 L514.58,331.12 L516.40,330.32 L518.24,329.54 L520.08,328.78 L521.94,328.05 L523.80,327.34 L525.67,326.66 L527.55,325.99 L529.43,325.33 L531.32,324.70 L533.22,324.07 L535.12,323.46 L537.02,322.85 L538.93,322.25 L540.84,321.65 L542.76,321.06 L544.67,320.47 L546.59,319.88 L548.50,319.28 L550.42,318.68 L552.34,318.07 L554.25,317.45 L556.16,316.83 L558.07,316.19 L559.98,315.53 L561.88,314.86 L563.78,314.17 L565.68,313.47 L567.57,312.76 L569.46,312.04 L571.35,311.31 L573.24,310.58 L575.13,309.85 L577.01,309.11 L578.90,308.38 L580.79,307.65 L582.67,306.92 L584.56,306.20 L586.45,305.49 L588.34,304.79 L590.24,304.10 L592.14,303.43 L594.03,302.78 L595.94,302.14 L597.85,301.53 L599.76,300.93 L601.67,300.37 L603.59,299.83 L605.52,299.31 L607.45,298.81 L609.38,298.34 L611.32,297.89 L613.26,297.46 L615.21,297.05 L617.16,296.66 L619.12,296.29 L621.08,295.94 L623.04,295.60 L625.00,295.29 L626.97,294.98 L628.94,294.69 L630.92,294.42 L632.89,294.16 L634.88,293.91 L636.86,293.68 L638.84,293.45 L640.83,293.24 L642.82,293.03 L644.82,292.84 L646.81,292.65 L648.81,292.47 L650.81,292.29 L652.81,292.13 L654.81,291.96 L656.82,291.81 L658.82,291.65 L660.83,291.50 L662.84,291.35 L664.85,291.20 L666.86,291.05 L668.87,290.91 L670.88,290.76 L672.90,290.61 L674.91,290.46 L676.92,290.30 L678.94,290.14 L680.95,289.97 L682.97,289.80 L684.98,289.63 L687.00,289.45 L689.01,289.25 L691.02,289.06 L693.04,288.85 L695.05,288.63 L697.05,288.39 L699.06,288.14 L701.06,287.87 L703.05,287.59 L705.04,287.28 L707.02,286.95 L708.99,286.59 L710.95,286.21 L712.90,285.80 L714.84,285.36 L716.77,284.88 L718.69,284.37 L720.59,283.83 L722.47,283.24 L724.34,282.62 L726.20,281.95 L728.03,281.24 L729.85,280.48 L731.64,279.68 L733.42,278.82 L735.17,277.92 L736.90,276.96 L738.61,275.94 L740.29,274.87 L741.95,273.74 L743.58,272.55 L745.18,271.29 L746.76,269.97 L748.30,268.58 L749.82,267.12 L751.30,265.60" fill="none" stroke="#ff7f0e" stroke-width="10.42" stroke-linecap="round" stroke-linejoin="round"/>
<line x1="750.95" y1="568.5" x2="750.95" y2="15.5" stroke="#1f77b4" stroke-opacity="0.5" stroke-width="2.08" stroke-dasharray="7.72 3.34"/></g>
<rect x="86.5" y="15.5" width="699.0" height="553.0" fill="none" stroke="#000" stroke-width="1.11" stroke-linejoin="miter"/>
<line x1="81.64" y1="568.5" x2="86.5" y2="568.5" stroke="#000" stroke-width="1.11"/>
<text x="76.6" y="573.0" text-anchor="end" class="t">0</text>
<line x1="81.64" y1="506.5" x2="86.5" y2="506.5" stroke="#000" stroke-width="1.11"/>
<text x="76.6" y="511.0" text-anchor="end" class="t">250000</text>
<line x1="81.64" y1="443.5" x2="86.5" y2="443.5" stroke="#000" stroke-width="1.11"/>
<text x="76.6" y="448.0" text-anchor="end" class="t">500000</text>
<line x1="81.64" y1="381.5" x2="86.5" y2="381.5" stroke="#000" stroke-width="1.11"/>
<text x="76.6" y="386.0" text-anchor="end" class="t">750000</text>
<line x1="81.64" y1="318.5" x2="86.5" y2="318.5" stroke="#000" stroke-width="1.11"/>
<text x="76.6" y="323.0" text-anchor="end" class="t">1000000</text>
<line x1="81.64" y1="255.5" x2="86.5" y2="255.5" stroke="#000" stroke-width="1.11"/>
<text x="76.6" y="260.0" text-anchor="end" class="t">1250000</text>
<line x1="81.64" y1="193.5" x2="86.5" y2="193.5" stroke="#000" stroke-width="1.11"/>
<text x="76.6" y="198.0" text-anchor="end" class="t">1500000</text>
<line x1="81.64" y1="130.5" x2="86.5" y2="130.5" stroke="#000" stroke-width="1.11"/>
<text x="76.6" y="135.0" text-anchor="end" class="t">1750000</text>
<line x1="81.64" y1="68.5" x2="86.5" y2="68.5" stroke="#000" stroke-width="1.11"/>
<text x="76.6" y="73.0" text-anchor="end" class="t">2000000</text>
<line x1="86.5" y1="568.5" x2="86.5" y2="573.36" stroke="#000" stroke-width="1.11"/>
<line x1="120.5" y1="568.5" x2="120.5" y2="573.36" stroke="#000" stroke-width="1.11"/>
<line x1="232.5" y1="568.5" x2="232.5" y2="573.36" stroke="#000" stroke-width="1.11"/>
<line x1="344.5" y1="568.5" x2="344.5" y2="573.36" stroke="#000" stroke-width="1.11"/>
<line x1="457.5" y1="568.5" x2="457.5" y2="573.36" stroke="#000" stroke-width="1.11"/>
<line x1="567.5" y1="568.5" x2="567.5" y2="573.36" stroke="#000" stroke-width="1.11"/>
<line x1="679.5" y1="568.5" x2="679.5" y2="573.36" stroke="#000" stroke-width="1.11"/>
<line x1="785.5" y1="568.5" x2="785.5" y2="573.36" stroke="#000" stroke-width="1.11"/>
<line x1="157.5" y1="568.5" x2="157.5" y2="571.28" stroke="#000" stroke-width="0.83"/>
<line x1="195.5" y1="568.5" x2="195.5" y2="571.28" stroke="#000" stroke-width="0.83"/>
<line x1="270.5" y1="568.5" x2="270.5" y2="571.28" stroke="#000" stroke-width="0.83"/>
<line x1="308.5" y1="568.5" x2="308.5" y2="571.28" stroke="#000" stroke-width="0.83"/>
<line x1="382.5" y1="568.5" x2="382.5" y2="571.28" stroke="#000" stroke-width="0.83"/>
<line x1="419.5" y1="568.5" x2="419.5" y2="571.28" stroke="#000" stroke-width="0.83"/>
<line x1="495.5" y1="568.5" x2="495.5" y2="571.28" stroke="#000" stroke-width="0.83"/>
<line x1="529.5" y1="568.5" x2="529.5" y2="571.28" stroke="#000" stroke-width="0.83"/>
<line x1="605.0" y1="568.5" x2="605.0" y2="571.28" stroke="#000" stroke-width="0.83"/>
<line x1="642.5" y1="568.5" x2="642.5" y2="571.28" stroke="#000" stroke-width="0.83"/>
<line x1="716.5" y1="568.5" x2="716.5" y2="571.28" stroke="#000" stroke-width="0.83"/>
<line x1="754.5" y1="568.5" x2="754.5" y2="571.28" stroke="#000" stroke-width="0.83"/>
<rect x="93.35" y="22.35" width="121.25" height="25.2" rx="2.8" fill="#fff" fill-opacity="0.8" stroke="#cccccc" stroke-width="1.11"/>
<line x1="97.9" y1="33.95" x2="128.1" y2="33.95" stroke="#1f77b4" stroke-width="2.08"/>
<text x="137.8" y="38.35" class="t">confirmed</text>
<line x1="86.5" y1="1023.5" x2="785.5" y2="1023.5" stroke="#b0b0b0" stroke-width="1.11"/>
<line x1="86.5" y1="901.5" x2="785.5" y2="901.5" stroke="#b0b0b0" stroke-width="1.11"/>
<line x1="86.5" y1="778.5" x2="785.5" y2="778.5" stroke="#b0b0b0" stroke-width="1.11"/>
<line x1="86.5" y1="656.5" x2="785.5" y2="656.5" stroke="#b0b0b0" stroke-width="1.11"/>
<g clip-path="url(#c2)"><path d="M239.32,1074.67 L241.26,1074.17 L243.19,1073.64 L245.11,1073.07 L247.02,1072.45 L248.91,1071.81 L250.80,1071.13 L252.68,1070.42 L254.55,1069.68 L256.40,1068.91 L258.26,1068.11 L260.10,1067.30 L261.93,1066.46 L263.76,1065.60 L265.58,1064.72 L267.39,1063.83 L269.20,1062.92 L271.00,1062.01 L272.80,1061.08 L274.59,1060.14 L276.38,1059.20 L278.16,1058.25 L279.94,1057.31 L281.72,1056.36 L283.50,1055.41 L285.27,1054.47 L287.04,1053.53 L288.81,1052.59 L290.58,1051.66 L292.35,1050.74 L294.12,1049.82 L295.89,1048.90 L297.67,1048.00 L299.45,1047.10 L301.23,1046.21 L303.02,1045.33 L304.81,1044.46 L306.61,1043.60 L308.41,1042.75 L310.22,1041.92 L312.04,1041.09 L313.87,1040.28 L315.70,1039.48 L317.55,1038.69 L319.40,1037.92 L321.27,1037.16 L323.15,1036.42 L325.04,1035.70 L326.94,1034.99 L328.86,1034.29 L330.78,1033.61 L332.71,1032.93 L334.64,1032.25 L336.57,1031.58 L338.50,1030.91 L340.43,1030.23 L342.36,1029.54 L344.28,1028.84 L346.19,1028.13 L348.08,1027.40 L349.97,1026.66 L351.84,1025.89 L353.69,1025.09 L355.52,1024.27 L357.33,1023.42 L359.12,1022.53 L360.88,1021.61 L362.61,1020.64 L364.31,1019.63 L365.97,1018.58 L367.61,1017.48 L369.20,1016.32 L370.76,1015.12 L372.29,1013.87 L373.78,1012.57 L375.24,1011.23 L376.66,1009.85 L378.05,1008.43 L379.41,1006.97 L380.73,1005.47 L382.03,1003.95 L383.29,1002.39 L384.53,1000.80 L385.74,999.18 L386.92,997.54 L388.07,995.88 L389.20,994.19 L390.30,992.49 L391.38,990.77 L392.43,989.03 L393.46,987.28 L394.47,985.52 L395.45,983.75 L396.41,981.97 L397.35,980.18 L398.27,978.39 L399.17,976.58 L400.05,974.77 L400.91,972.96 L401.76,971.13 L402.58,969.30 L403.39,967.46 L404.18,965.62 L404.95,963.77 L405.71,961.91 L406.45,960.05 L407.18,958.18 L407.89,956.30 L408.59,954.42 L409.27,952.54 L409.95,950.65 L410.61,948.75 L411.25,946.86 L411.89,944.95 L412.51,943.04 L413.13,941.13 L413.73,939.22 L414.32,937.30 L414.91,935.38 L415.49,933.45 L416.05,931.52 L416.62,929.59 L417.17,927.66 L417.72,925.72 L418.26,923.79 L418.80,921.85 L419.33,919.90 L419.85,917.96 L420.38,916.02 L420.90,914.07 L421.41,912.12 L421.93,910.18 L422.44,908.23 L422.95,906.28 L423.46,904.33 L423.97,902.38 L424.48,900.44 L424.99,898.49 L425.50,896.54 L426.01,894.60 L426.52,892.65 L427.04,890.70 L427.55,888.76 L428.07,886.82 L428.59,884.87 L429.11,882.93 L429.63,880.99 L430.15,879.05 L430.68,877.11 L431.20,875.17 L431.73,873.23 L432.25,871.29 L432.78,869.35 L433.31,867.42 L433.84,865.48 L434.38,863.54 L434.91,861.60 L435.44,859.67 L435.98,857.73 L436.52,855.80 L437.05,853.86 L437.59,851.93 L438.13,849.99 L438.67,848.06 L439.22,846.13 L439.76,844.19 L440.30,842.26 L440.85,840.33 L441.40,838.39 L441.94,836.46 L442.49,834.53 L443.04,832.60 L443.59,830.66 L444.14,828.73 L444.70,826.80 L445.25,824.87 L445.81,822.94 L446.36,821.00 L446.92,819.07 L447.48,817.14 L448.03,815.21 L448.59,813.28 L449.15,811.35 L449.71,809.41 L450.28,807.48 L450.84,805.55 L451.40,803.62 L451.97,801.69 L452.54,799.75 L453.11,797.82 L453.68,795.89 L454.25,793.96 L454.83,792.03 L455.41,790.11 L456.00,788.18 L456.58,786.25 L457.17,784.33 L457.77,782.41 L458.37,780.49 L458.97,778.57 L459.58,776.65 L460.20,774.73 L460.82,772.82 L461.44,770.91 L462.07,769.00 L462.71,767.09 L463.35,765.19 L464.00,763.29 L464.66,761.39 L465.32,759.49 L465.99,757.60 L466.67,755.71 L467.36,753.82 L468.06,751.94 L468.76,750.06 L469.47,748.19 L470.19,746.32 L470.92,744.45 L471.66,742.59 L472.41,740.73 L473.17,738.87 L473.94,737.02 L474.72,735.18 L475.51,733.33 L476.31,731.50 L477.13,729.67 L477.95,727.84 L478.79,726.02 L479.64,724.20 L480.50,722.39 L481.37,720.59 L482.25,718.79 L483.15,717.00 L484.06,715.21 L484.99,713.43 L485.92,711.65 L486.86,709.88 L487.81,708.10 L488.76,706.33 L489.71,704.57 L490.67,702.80 L491.64,701.04 L492.62,699.28 L493.62,697.54 L494.64,695.80 L495.69,694.08 L496.76,692.37 L497.86,690.68 L498.99,689.01 L500.15,687.36 L501.34,685.73 L502.56,684.13 L503.81,682.55 L505.09,681.00 L506.40,679.49 L507.75,678.00 L509.12,676.55 L510.52,675.14 L511.96,673.77 L513.43,672.43 L514.93,671.14 L516.46,669.90 L518.02,668.69 L519.61,667.52 L521.22,666.39 L522.86,665.29 L524.53,664.23 L526.22,663.21 L527.93,662.21 L529.66,661.24 L531.42,660.30 L533.19,659.39 L534.98,658.50 L536.78,657.64 L538.60,656.80 L540.44,655.98 L542.28,655.18 L544.14,654.39 L546.01,653.62 L547.89,652.87 L549.77,652.12 L551.66,651.39 L553.56,650.67 L555.46,649.96 L557.36,649.25 L559.27,648.55 L561.17,647.85 L563.08,647.15 L564.98,646.46 L566.89,645.77 L568.79,645.08 L570.70,644.40 L572.60,643.71 L574.51,643.04 L576.41,642.36 L578.32,641.69 L580.23,641.03 L582.13,640.37 L584.04,639.71 L585.95,639.06 L587.85,638.41 L589.76,637.77 L591.67,637.14 L593.58,636.51 L595.49,635.88 L597.41,635.27 L599.32,634.65 L601.23,634.05 L603.15,633.45 L605.07,632.86 L606.98,632.27 L608.90,631.70 L610.82,631.13 L612.75,630.56 L614.67,630.01 L616.60,629.46 L618.52,628.92 L620.45,628.39 L622.38,627.87 L624.32,627.36 L626.25,626.85 L628.19,626.36 L630.13,625.87 L632.07,625.40 L634.01,624.93 L635.96,624.48 L637.91,624.03 L639.86,623.59 L641.81,623.17 L643.77,622.76 L645.73,622.35 L647.69,621.96 L649.65,621.58 L651.62,621.21 L653.59,620.85 L655.56,620.51 L657.54,620.18 L659.52,619.86 L661.50,619.55 L663.49,619.25 L665.48,618.96 L667.47,618.68 L669.46,618.41 L671.45,618.15 L673.45,617.90 L675.45,617.66 L677.45,617.42 L679.45,617.19 L681.46,616.97 L683.46,616.75 L685.47,616.53 L687.47,616.32 L689.48,616.11 L691.49,615.90 L693.50,615.70 L695.51,615.50 L697.51,615.29 L699.52,615.09 L701.53,614.89 L703.54,614.69 L705.55,614.48 L707.55,614.28 L709.56,614.07 L711.56,613.85 L713.57,613.64 L715.57,613.41 L717.57,613.19 L719.57,612.95 L721.57,612.71 L723.56,612.47 L725.55,612.21 L727.55,611.95 L729.53,611.68 L731.52,611.40 L733.50,611.11 L735.48,610.81 L737.46,610.50 L739.43,610.17 L741.40,609.84 L743.37,609.49 L745.33,609.12 L747.29,608.74 L749.24,608.35 L749.25,664.02 L747.28,664.44 L745.31,664.83 L743.33,665.21 L741.36,665.56 L739.38,665.89 L737.40,666.20 L735.42,666.50 L733.43,666.78 L731.45,667.04 L729.46,667.29 L727.47,667.52 L725.48,667.74 L723.49,667.95 L721.50,668.14 L719.51,668.33 L717.51,668.50 L715.52,668.67 L713.52,668.83 L711.52,668.97 L709.53,669.12 L707.53,669.26 L705.53,669.39 L703.53,669.52 L701.53,669.64 L699.53,669.77 L697.53,669.89 L695.53,670.01 L693.53,670.13 L691.53,670.26 L689.53,670.38 L687.53,670.51 L685.53,670.64 L683.53,670.78 L681.53,670.92 L679.53,671.07 L677.54,671.23 L675.54,671.39 L673.54,671.57 L671.55,671.75 L669.55,671.94 L667.56,672.15 L665.57,672.37 L663.57,672.60 L661.59,672.85 L659.60,673.11 L657.61,673.38 L655.62,673.68 L653.64,673.99 L651.66,674.32 L649.68,674.66 L647.70,675.02 L645.73,675.40 L643.75,675.79 L641.79,676.20 L639.82,676.62 L637.86,677.06 L635.90,677.51 L633.94,677.98 L631.99,678.47 L630.04,678.97 L628.10,679.48 L626.16,680.01 L624.23,680.55 L622.30,681.11 L620.37,681.68 L618.45,682.27 L616.54,682.87 L614.63,683.49 L612.73,684.11 L610.83,684.75 L608.94,685.41 L607.06,686.07 L605.18,686.74 L603.30,687.42 L601.43,688.11 L599.56,688.80 L597.70,689.49 L595.84,690.18 L593.98,690.87 L592.13,691.56 L590.28,692.25 L588.42,692.93 L586.57,693.60 L584.71,694.26 L582.84,694.90 L580.96,695.52 L579.07,696.12 L577.17,696.69 L575.25,697.24 L573.31,697.75 L571.35,698.23 L569.37,698.68 L567.38,699.11 L565.38,699.52 L563.38,699.93 L561.37,700.33 L559.36,700.73 L557.35,701.13 L555.34,701.55 L553.35,701.98 L551.37,702.44 L549.40,702.92 L547.45,703.44 L545.52,703.99 L543.62,704.59 L541.74,705.24 L539.90,705.94 L538.08,706.70 L536.31,707.53 L534.57,708.42 L532.88,709.40 L531.23,710.44 L529.62,711.55 L528.04,712.72 L526.50,713.95 L524.99,715.23 L523.52,716.56 L522.07,717.94 L520.66,719.36 L519.27,720.81 L517.90,722.30 L516.56,723.81 L515.24,725.35 L513.94,726.91 L512.66,728.49 L511.39,730.07 L510.14,731.67 L508.90,733.26 L507.67,734.86 L506.46,736.46 L505.25,738.06 L504.06,739.66 L502.87,741.26 L501.70,742.87 L500.55,744.48 L499.40,746.11 L498.27,747.74 L497.15,749.38 L496.05,751.04 L494.96,752.71 L493.88,754.38 L492.82,756.07 L491.77,757.77 L490.73,759.48 L489.70,761.19 L488.69,762.92 L487.69,764.65 L486.71,766.39 L485.74,768.14 L484.78,769.90 L483.83,771.66 L482.90,773.43 L481.98,775.20 L481.07,776.98 L480.17,778.77 L479.29,780.56 L478.41,782.36 L477.55,784.17 L476.70,785.98 L475.86,787.79 L475.03,789.61 L474.21,791.44 L473.41,793.27 L472.61,795.11 L471.82,796.95 L471.04,798.79 L470.27,800.64 L469.51,802.50 L468.76,804.35 L468.01,806.22 L467.28,808.08 L466.55,809.95 L465.83,811.82 L465.12,813.69 L464.41,815.57 L463.71,817.45 L463.02,819.33 L462.34,821.21 L461.66,823.10 L460.99,824.99 L460.33,826.88 L459.67,828.77 L459.02,830.66 L458.37,832.56 L457.73,834.46 L457.10,836.36 L456.47,838.26 L455.85,840.17 L455.23,842.07 L454.62,843.98 L454.01,845.89 L453.41,847.80 L452.81,849.72 L452.22,851.63 L451.63,853.55 L451.05,855.46 L450.47,857.38 L449.90,859.30 L449.33,861.23 L448.76,863.15 L448.20,865.08 L447.64,867.00 L447.09,868.93 L446.54,870.86 L445.99,872.79 L445.44,874.72 L444.90,876.65 L444.37,878.59 L443.83,880.52 L443.30,882.45 L442.77,884.39 L442.24,886.33 L441.72,888.27 L441.19,890.20 L440.67,892.14 L440.15,894.08 L439.64,896.02 L439.12,897.96 L438.61,899.91 L438.10,901.85 L437.59,903.79 L437.08,905.73 L436.57,907.68 L436.06,909.62 L435.54,911.56 L435.03,913.50 L434.52,915.44 L434.00,917.38 L433.49,919.32 L432.96,921.26 L432.44,923.20 L431.91,925.14 L431.38,927.07 L430.84,929.00 L430.30,930.93 L429.75,932.86 L429.19,934.78 L428.63,936.71 L428.06,938.63 L427.48,940.55 L426.90,942.46 L426.30,944.37 L425.70,946.28 L425.09,948.18 L424.47,950.08 L423.83,951.98 L423.19,953.87 L422.53,955.76 L421.86,957.65 L421.18,959.53 L420.49,961.40 L419.78,963.27 L419.06,965.13 L418.33,966.99 L417.58,968.85 L416.81,970.70 L416.03,972.54 L415.24,974.37 L414.42,976.20 L413.59,978.03 L412.75,979.85 L411.88,981.66 L410.99,983.46 L410.09,985.26 L409.17,987.05 L408.22,988.83 L407.26,990.61 L406.28,992.37 L405.27,994.13 L404.24,995.88 L403.19,997.62 L402.12,999.34 L401.03,1001.05 L399.91,1002.75 L398.77,1004.42 L397.60,1006.08 L396.41,1007.71 L395.19,1009.32 L393.95,1010.91 L392.68,1012.47 L391.38,1014.00 L390.06,1015.51 L388.71,1016.98 L387.33,1018.42 L385.93,1019.83 L384.49,1021.20 L383.03,1022.54 L381.54,1023.84 L380.01,1025.09 L378.46,1026.31 L376.88,1027.48 L375.26,1028.61 L373.62,1029.69 L371.94,1030.72 L370.23,1031.72 L368.50,1032.67 L366.75,1033.59 L364.97,1034.48 L363.17,1035.33 L361.34,1036.15 L359.50,1036.94 L357.65,1037.71 L355.78,1038.46 L353.89,1039.18 L352.00,1039.89 L350.09,1040.58 L348.17,1041.26 L346.25,1041.92 L344.33,1042.58 L342.40,1043.22 L340.46,1043.87 L338.53,1044.51 L336.60,1045.15 L334.67,1045.80 L332.75,1046.45 L330.83,1047.10 L328.93,1047.77 L327.03,1048.44 L325.14,1049.13 L323.26,1049.83 L321.38,1050.53 L319.51,1051.25 L317.66,1051.98 L315.80,1052.71 L313.95,1053.46 L312.11,1054.21 L310.27,1054.97 L308.44,1055.74 L306.61,1056.52 L304.78,1057.30 L302.96,1058.09 L301.14,1058.88 L299.32,1059.68 L297.50,1060.49 L295.68,1061.30 L293.86,1062.11 L292.04,1062.93 L290.22,1063.75 L288.40,1064.58 L286.57,1065.41 L284.74,1066.24 L282.91,1067.07 L281.08,1067.90 L279.25,1068.73 L277.41,1069.55 L275.56,1070.37 L273.72,1071.18 L271.86,1071.98 L270.01,1072.78 L268.15,1073.56 L266.28,1074.32 L264.41,1075.07 L262.54,1075.81 L260.66,1076.52 L258.77,1077.22 L256.88,1077.90 L254.98,1078.55 L253.08,1079.18 L251.17,1079.78 L249.25,1080.36 L247.33,1080.90 L245.40,1081.42 L243.46,1081.90 L241.51,1082.35 Z" fill="#1f77b4" fill-opacity="0.1" stroke="#1f77b4" stroke-opacity="0.1" stroke-width="1.0" stroke-linejoin="round"/>
<path d="M239.32,1074.69 L241.28,1074.17 L243.22,1073.61 L245.15,1073.01 L247.06,1072.38 L248.95,1071.71 L250.83,1071.02 L252.70,1070.29 L254.55,1069.53 L256.39,1068.75 L258.22,1067.95 L260.04,1067.13 L261.86,1066.28 L263.66,1065.42 L265.46,1064.55 L267.25,1063.66 L269.04,1062.76 L270.82,1061.85 L272.60,1060.93 L274.38,1060.01 L276.15,1059.09 L277.92,1058.17 L279.70,1057.24 L281.48,1056.32 L283.25,1055.41 L285.03,1054.50 L286.82,1053.61 L288.60,1052.71 L290.39,1051.83 L292.19,1050.95 L293.99,1050.08 L295.79,1049.22 L297.59,1048.37 L299.40,1047.52 L301.22,1046.68 L303.04,1045.85 L304.86,1045.03 L306.69,1044.22 L308.53,1043.41 L310.37,1042.62 L312.21,1041.83 L314.06,1041.06 L315.92,1040.29 L317.79,1039.53 L319.66,1038.78 L321.53,1038.04 L323.42,1037.31 L325.31,1036.59 L327.21,1035.87 L329.11,1035.17 L331.02,1034.47 L332.93,1033.77 L334.84,1033.08 L336.75,1032.38 L338.65,1031.67 L340.55,1030.96 L342.45,1030.24 L344.33,1029.51 L346.21,1028.77 L348.07,1028.00 L349.92,1027.22 L351.76,1026.42 L353.58,1025.59 L355.38,1024.74 L357.16,1023.86 L358.92,1022.95 L360.66,1022.00 L362.37,1021.02 L364.06,1020.00 L365.71,1018.94 L367.34,1017.84 L368.93,1016.69 L370.49,1015.50 L372.03,1014.27 L373.53,1012.99 L374.99,1011.68 L376.43,1010.33 L377.84,1008.94 L379.22,1007.52 L380.57,1006.06 L381.89,1004.57 L383.19,1003.06 L384.45,1001.51 L385.69,999.94 L386.90,998.34 L388.08,996.72 L389.24,995.08 L390.37,993.42 L391.47,991.74 L392.55,990.04 L393.60,988.33 L394.63,986.60 L395.64,984.86 L396.62,983.12 L397.58,981.36 L398.51,979.59 L399.43,977.81 L400.32,976.02 L401.19,974.22 L402.04,972.41 L402.87,970.59 L403.68,968.77 L404.48,966.93 L405.25,965.09 L406.01,963.24 L406.75,961.38 L407.47,959.52 L408.18,957.65 L408.87,955.77 L409.55,953.88 L410.22,951.99 L410.87,950.10 L411.51,948.19 L412.13,946.29 L412.75,944.37 L413.35,942.46 L413.94,940.53 L414.53,938.61 L415.10,936.68 L415.66,934.74 L416.22,932.81 L416.77,930.87 L417.31,928.92 L417.85,926.98 L418.37,925.03 L418.90,923.08 L419.42,921.13 L419.93,919.18 L420.44,917.22 L420.95,915.27 L421.45,913.31 L421.96,911.36 L422.46,909.40 L422.96,907.45 L423.46,905.49 L423.96,903.54 L424.47,901.58 L424.97,899.63 L425.48,897.68 L425.99,895.73 L426.50,893.79 L427.01,891.84 L427.53,889.90 L428.05,887.96 L428.57,886.02 L429.09,884.08 L429.62,882.14 L430.15,880.21 L430.68,878.27 L431.21,876.34 L431.75,874.41 L432.29,872.48 L432.83,870.55 L433.37,868.63 L433.92,866.70 L434.46,864.77 L435.01,862.85 L435.56,860.93 L436.11,859.01 L436.67,857.09 L437.22,855.17 L437.78,853.25 L438.34,851.33 L438.90,849.41 L439.46,847.49 L440.03,845.58 L440.59,843.66 L441.16,841.74 L441.73,839.83 L442.30,837.91 L442.87,836.00 L443.44,834.08 L444.01,832.17 L444.59,830.26 L445.16,828.34 L445.74,826.43 L446.32,824.51 L446.90,822.60 L447.48,820.69 L448.06,818.77 L448.64,816.86 L449.22,814.94 L449.80,813.03 L450.38,811.11 L450.97,809.20 L451.55,807.28 L452.14,805.37 L452.72,803.45 L453.31,801.53 L453.90,799.62 L454.49,797.70 L455.08,795.78 L455.68,793.87 L456.28,791.95 L456.88,790.04 L457.49,788.12 L458.10,786.21 L458.71,784.30 L459.33,782.39 L459.95,780.48 L460.58,778.58 L461.21,776.67 L461.85,774.77 L462.50,772.87 L463.15,770.97 L463.81,769.07 L464.47,767.18 L465.15,765.29 L465.83,763.40 L466.52,761.51 L467.21,759.63 L467.92,757.75 L468.63,755.87 L469.36,754.00 L470.09,752.13 L470.83,750.27 L471.58,748.41 L472.35,746.55 L473.12,744.70 L473.90,742.85 L474.70,741.00 L475.51,739.16 L476.33,737.33 L477.16,735.50 L478.00,733.67 L478.86,731.85 L479.73,730.04 L480.62,728.23 L481.52,726.42 L482.43,724.63 L483.35,722.83 L484.30,721.05 L485.25,719.27 L486.22,717.49 L487.21,715.73 L488.22,713.97 L489.24,712.22 L490.27,710.48 L491.33,708.76 L492.41,707.05 L493.50,705.35 L494.61,703.67 L495.74,702.00 L496.90,700.35 L498.07,698.73 L499.27,697.12 L500.49,695.53 L501.73,693.97 L502.99,692.43 L504.28,690.92 L505.59,689.43 L506.93,687.97 L508.29,686.54 L509.68,685.13 L511.09,683.76 L512.53,682.43 L514.00,681.12 L515.50,679.85 L517.02,678.62 L518.57,677.42 L520.15,676.26 L521.76,675.14 L523.39,674.05 L525.05,672.99 L526.73,671.96 L528.44,670.96 L530.16,669.99 L531.90,669.04 L533.67,668.12 L535.45,667.23 L537.24,666.36 L539.05,665.50 L540.88,664.67 L542.72,663.86 L544.57,663.06 L546.43,662.28 L548.30,661.51 L550.18,660.75 L552.07,660.01 L553.96,659.28 L555.85,658.55 L557.75,657.83 L559.66,657.12 L561.56,656.41 L563.46,655.71 L565.37,655.01 L567.27,654.31 L569.17,653.61 L571.07,652.92 L572.98,652.23 L574.88,651.54 L576.78,650.86 L578.68,650.18 L580.58,649.51 L582.49,648.84 L584.39,648.17 L586.29,647.51 L588.20,646.86 L590.10,646.21 L592.01,645.56 L593.91,644.92 L595.82,644.29 L597.72,643.66 L599.63,643.04 L601.54,642.43 L603.45,641.83 L605.36,641.23 L607.27,640.63 L609.19,640.05 L611.10,639.47 L613.02,638.91 L614.94,638.35 L616.86,637.79 L618.78,637.25 L620.70,636.72 L622.63,636.19 L624.56,635.68 L626.48,635.17 L628.42,634.68 L630.35,634.19 L632.29,633.72 L634.22,633.25 L636.16,632.80 L638.11,632.35 L640.05,631.92 L642.00,631.50 L643.95,631.09 L645.90,630.69 L647.86,630.31 L649.82,629.94 L651.78,629.58 L653.75,629.23 L655.72,628.89 L657.69,628.57 L659.67,628.26 L661.64,627.97 L663.63,627.68 L665.61,627.41 L667.60,627.15 L669.59,626.90 L671.58,626.66 L673.57,626.42 L675.57,626.20 L677.57,625.98 L679.57,625.77 L681.57,625.56 L683.57,625.36 L685.57,625.17 L687.58,624.97 L689.58,624.79 L691.59,624.60 L693.59,624.42 L695.60,624.23 L697.61,624.05 L699.61,623.87 L701.62,623.69 L703.62,623.50 L705.63,623.32 L707.63,623.13 L709.64,622.94 L711.64,622.74 L713.64,622.54 L715.64,622.33 L717.64,622.12 L719.63,621.90 L721.63,621.67 L723.62,621.44 L725.61,621.20 L727.60,620.94 L729.58,620.68 L731.56,620.41 L733.54,620.12 L735.52,619.83 L737.49,619.52 L739.46,619.19 L741.42,618.86 L743.38,618.50 L745.34,618.14 L747.29,617.75 L749.24,617.35 L749.23,654.97 L747.30,655.39 L745.35,655.79 L743.40,656.16 L741.45,656.51 L739.49,656.83 L737.52,657.13 L735.55,657.42 L733.57,657.68 L731.59,657.92 L729.60,658.15 L727.61,658.36 L725.61,658.56 L723.61,658.74 L721.61,658.91 L719.61,659.06 L717.60,659.21 L715.59,659.34 L713.57,659.47 L711.56,659.59 L709.54,659.70 L707.52,659.81 L705.50,659.91 L703.48,660.00 L701.46,660.10 L699.43,660.19 L697.41,660.28 L695.39,660.38 L693.37,660.47 L691.34,660.57 L689.32,660.67 L687.30,660.78 L685.28,660.89 L683.27,661.01 L681.25,661.13 L679.24,661.27 L677.23,661.41 L675.22,661.57 L673.22,661.74 L671.22,661.92 L669.22,662.12 L667.23,662.33 L665.24,662.56 L663.25,662.80 L661.27,663.07 L659.30,663.35 L657.33,663.66 L655.36,663.98 L653.40,664.33 L651.45,664.70 L649.50,665.08 L647.55,665.49 L645.61,665.91 L643.67,666.35 L641.74,666.80 L639.81,667.28 L637.88,667.76 L635.96,668.26 L634.04,668.78 L632.12,669.30 L630.20,669.84 L628.29,670.39 L626.38,670.95 L624.47,671.52 L622.56,672.10 L620.65,672.68 L618.75,673.28 L616.84,673.88 L614.94,674.48 L613.03,675.09 L611.13,675.71 L609.22,676.33 L607.32,676.95 L605.41,677.58 L603.51,678.20 L601.60,678.83 L599.69,679.45 L597.78,680.08 L595.87,680.70 L593.95,681.32 L592.04,681.94 L590.12,682.56 L588.20,683.16 L586.27,683.77 L584.34,684.37 L582.41,684.96 L580.48,685.54 L578.54,686.12 L576.60,686.68 L574.65,687.24 L572.70,687.79 L570.74,688.32 L568.78,688.84 L566.81,689.36 L564.85,689.87 L562.88,690.38 L560.92,690.89 L558.96,691.41 L557.01,691.93 L555.06,692.46 L553.12,693.01 L551.19,693.57 L549.28,694.16 L547.38,694.77 L545.49,695.40 L543.62,696.06 L541.77,696.76 L539.94,697.49 L538.13,698.26 L536.34,699.07 L534.58,699.93 L532.84,700.83 L531.14,701.79 L529.46,702.80 L527.82,703.86 L526.20,704.97 L524.61,706.13 L523.05,707.34 L521.52,708.59 L520.02,709.88 L518.54,711.21 L517.09,712.57 L515.66,713.98 L514.26,715.41 L512.88,716.88 L511.53,718.37 L510.20,719.89 L508.90,721.43 L507.62,723.00 L506.36,724.58 L505.12,726.18 L503.90,727.80 L502.71,729.43 L501.53,731.07 L500.38,732.73 L499.24,734.39 L498.12,736.06 L497.03,737.75 L495.95,739.44 L494.89,741.14 L493.84,742.85 L492.82,744.58 L491.81,746.31 L490.81,748.04 L489.84,749.79 L488.88,751.55 L487.93,753.31 L487.00,755.08 L486.09,756.86 L485.19,758.64 L484.30,760.44 L483.43,762.24 L482.57,764.04 L481.73,765.86 L480.89,767.68 L480.07,769.50 L479.26,771.33 L478.47,773.17 L477.68,775.01 L476.90,776.86 L476.14,778.71 L475.38,780.57 L474.64,782.43 L473.90,784.30 L473.17,786.17 L472.46,788.04 L471.75,789.92 L471.04,791.80 L470.35,793.68 L469.66,795.57 L468.98,797.46 L468.31,799.35 L467.64,801.24 L466.98,803.14 L466.32,805.04 L465.67,806.94 L465.02,808.84 L464.38,810.74 L463.74,812.65 L463.10,814.55 L462.47,816.46 L461.84,818.36 L461.21,820.27 L460.59,822.18 L459.97,824.09 L459.36,826.00 L458.74,827.91 L458.13,829.82 L457.53,831.73 L456.92,833.64 L456.32,835.55 L455.73,837.47 L455.13,839.38 L454.54,841.30 L453.96,843.21 L453.37,845.13 L452.79,847.05 L452.21,848.97 L451.63,850.89 L451.06,852.81 L450.49,854.73 L449.92,856.65 L449.36,858.57 L448.80,860.50 L448.24,862.42 L447.68,864.35 L447.12,866.27 L446.57,868.20 L446.02,870.12 L445.48,872.05 L444.93,873.98 L444.39,875.91 L443.85,877.84 L443.31,879.77 L442.78,881.71 L442.24,883.64 L441.71,885.57 L441.19,887.51 L440.66,889.44 L440.14,891.38 L439.61,893.31 L439.09,895.25 L438.58,897.19 L438.06,899.13 L437.55,901.07 L437.04,903.01 L436.53,904.95 L436.02,906.90 L435.51,908.84 L435.00,910.78 L434.49,912.72 L433.98,914.67 L433.47,916.61 L432.95,918.55 L432.43,920.49 L431.91,922.43 L431.39,924.36 L430.86,926.30 L430.33,928.23 L429.79,930.17 L429.25,932.10 L428.70,934.03 L428.15,935.95 L427.58,937.88 L427.01,939.80 L426.43,941.72 L425.85,943.63 L425.25,945.54 L424.65,947.45 L424.03,949.36 L423.41,951.26 L422.77,953.15 L422.12,955.05 L421.46,956.94 L420.79,958.82 L420.10,960.70 L419.40,962.57 L418.69,964.44 L417.96,966.31 L417.22,968.16 L416.46,970.02 L415.69,971.86 L414.90,973.70 L414.09,975.54 L413.27,977.37 L412.42,979.19 L411.56,981.00 L410.68,982.81 L409.78,984.61 L408.86,986.40 L407.92,988.19 L406.96,989.97 L405.98,991.74 L404.98,993.50 L403.95,995.25 L402.90,996.99 L401.83,998.72 L400.73,1000.43 L399.62,1002.13 L398.47,1003.81 L397.30,1005.46 L396.11,1007.10 L394.89,1008.71 L393.65,1010.30 L392.38,1011.87 L391.09,1013.40 L389.76,1014.91 L388.41,1016.39 L387.04,1017.83 L385.63,1019.24 L384.20,1020.61 L382.74,1021.95 L381.24,1023.24 L379.72,1024.50 L378.17,1025.71 L376.59,1026.88 L374.98,1028.01 L373.34,1029.09 L371.67,1030.12 L369.97,1031.11 L368.25,1032.07 L366.50,1032.98 L364.73,1033.86 L362.93,1034.71 L361.12,1035.53 L359.29,1036.32 L357.44,1037.08 L355.58,1037.83 L353.70,1038.55 L351.81,1039.26 L349.91,1039.95 L348.01,1040.63 L346.09,1041.30 L344.17,1041.96 L342.25,1042.62 L340.33,1043.27 L338.40,1043.92 L336.47,1044.58 L334.55,1045.24 L332.63,1045.91 L330.72,1046.58 L328.81,1047.27 L326.92,1047.97 L325.03,1048.69 L323.15,1049.42 L321.27,1050.16 L319.40,1050.91 L317.54,1051.67 L315.69,1052.44 L313.84,1053.23 L311.99,1054.01 L310.16,1054.81 L308.32,1055.61 L306.49,1056.42 L304.66,1057.23 L302.84,1058.05 L301.01,1058.87 L299.19,1059.69 L297.38,1060.52 L295.56,1061.34 L293.74,1062.17 L291.93,1063.00 L290.11,1063.82 L288.30,1064.64 L286.48,1065.47 L284.66,1066.28 L282.84,1067.10 L281.02,1067.90 L279.20,1068.71 L277.37,1069.50 L275.54,1070.29 L273.70,1071.07 L271.86,1071.84 L270.02,1072.60 L268.17,1073.36 L266.32,1074.10 L264.46,1074.83 L262.59,1075.54 L260.72,1076.24 L258.84,1076.93 L256.95,1077.61 L255.05,1078.27 L253.15,1078.91 L251.23,1079.53 L249.31,1080.14 L247.37,1080.73 L245.43,1081.30 L243.48,1081.84 L241.51,1082.37 Z" fill="#1f77b4" fill-opacity="0.1" stroke="#1f77b4" stroke-opacity="0.1" stroke-width="1.0" stroke-linejoin="round"/>
<path d="M239.32,1074.69 L241.28,1074.16 L243.22,1073.58 L245.14,1072.97 L247.05,1072.32 L248.94,1071.65 L250.82,1070.94 L252.69,1070.20 L254.54,1069.44 L256.39,1068.66 L258.22,1067.86 L260.05,1067.03 L261.87,1066.19 L263.68,1065.33 L265.48,1064.46 L267.28,1063.58 L269.07,1062.68 L270.86,1061.78 L272.65,1060.88 L274.44,1059.97 L276.22,1059.06 L278.01,1058.15 L279.80,1057.24 L281.59,1056.33 L283.38,1055.44 L285.17,1054.55 L286.97,1053.67 L288.78,1052.79 L290.58,1051.93 L292.39,1051.07 L294.21,1050.22 L296.03,1049.38 L297.85,1048.54 L299.68,1047.72 L301.51,1046.90 L303.35,1046.09 L305.19,1045.29 L307.04,1044.50 L308.89,1043.72 L310.74,1042.95 L312.61,1042.18 L314.47,1041.42 L316.35,1040.68 L318.23,1039.94 L320.11,1039.21 L322.00,1038.49 L323.89,1037.78 L325.80,1037.08 L327.70,1036.39 L329.62,1035.70 L331.53,1035.02 L333.45,1034.34 L335.36,1033.66 L337.27,1032.97 L339.18,1032.28 L341.08,1031.57 L342.98,1030.86 L344.87,1030.13 L346.75,1029.38 L348.61,1028.61 L350.46,1027.82 L352.30,1027.01 L354.12,1026.17 L355.92,1025.30 L357.70,1024.40 L359.46,1023.47 L361.20,1022.50 L362.91,1021.50 L364.60,1020.46 L366.26,1019.39 L367.88,1018.27 L369.48,1017.11 L371.04,1015.91 L372.57,1014.66 L374.07,1013.38 L375.55,1012.06 L376.99,1010.71 L378.40,1009.32 L379.78,1007.90 L381.13,1006.44 L382.46,1004.96 L383.76,1003.45 L385.02,1001.91 L386.27,1000.34 L387.48,998.75 L388.67,997.14 L389.83,995.50 L390.96,993.85 L392.07,992.17 L393.16,990.48 L394.22,988.78 L395.25,987.06 L396.26,985.32 L397.25,983.58 L398.22,981.82 L399.16,980.06 L400.08,978.28 L400.98,976.49 L401.85,974.70 L402.71,972.89 L403.55,971.07 L404.37,969.25 L405.17,967.41 L405.95,965.57 L406.71,963.72 L407.46,961.86 L408.19,959.99 L408.91,958.11 L409.61,956.23 L410.29,954.34 L410.96,952.45 L411.62,950.55 L412.26,948.64 L412.90,946.73 L413.52,944.81 L414.12,942.89 L414.72,940.96 L415.31,939.03 L415.89,937.09 L416.46,935.15 L417.02,933.20 L417.57,931.26 L418.12,929.31 L418.65,927.35 L419.19,925.40 L419.71,923.44 L420.23,921.48 L420.75,919.52 L421.26,917.56 L421.77,915.59 L422.28,913.63 L422.78,911.66 L423.28,909.70 L423.78,907.74 L424.28,905.77 L424.78,903.81 L425.28,901.85 L425.78,899.89 L426.29,897.93 L426.79,895.97 L427.30,894.02 L427.81,892.07 L428.32,890.11 L428.83,888.17 L429.35,886.22 L429.87,884.27 L430.39,882.33 L430.91,880.39 L431.44,878.45 L431.96,876.51 L432.49,874.57 L433.02,872.64 L433.56,870.70 L434.09,868.77 L434.63,866.84 L435.17,864.91 L435.72,862.98 L436.26,861.05 L436.81,859.13 L437.36,857.20 L437.91,855.28 L438.46,853.36 L439.02,851.43 L439.58,849.51 L440.14,847.59 L440.70,845.68 L441.27,843.76 L441.84,841.84 L442.41,839.92 L442.98,838.01 L443.56,836.09 L444.13,834.18 L444.71,832.26 L445.30,830.35 L445.88,828.44 L446.47,826.53 L447.06,824.61 L447.65,822.70 L448.24,820.79 L448.84,818.88 L449.44,816.97 L450.04,815.06 L450.64,813.15 L451.25,811.24 L451.85,809.33 L452.46,807.42 L453.08,805.51 L453.69,803.60 L454.31,801.68 L454.93,799.77 L455.55,797.86 L456.18,795.96 L456.81,794.05 L457.44,792.14 L458.08,790.23 L458.72,788.32 L459.36,786.41 L460.01,784.50 L460.66,782.60 L461.32,780.69 L461.98,778.78 L462.64,776.88 L463.31,774.97 L463.98,773.07 L464.66,771.17 L465.34,769.26 L466.02,767.36 L466.71,765.46 L467.41,763.56 L468.11,761.66 L468.82,759.77 L469.53,757.87 L470.25,755.98 L470.98,754.09 L471.71,752.20 L472.46,750.32 L473.22,748.44 L473.99,746.57 L474.77,744.71 L475.57,742.85 L476.38,741.00 L477.20,739.16 L478.05,737.33 L478.90,735.51 L479.78,733.69 L480.67,731.89 L481.59,730.10 L482.52,728.32 L483.48,726.56 L484.45,724.80 L485.46,723.07 L486.48,721.34 L487.53,719.63 L488.60,717.94 L489.70,716.26 L490.82,714.60 L491.97,712.96 L493.15,711.34 L494.34,709.73 L495.56,708.15 L496.81,706.58 L498.08,705.03 L499.37,703.51 L500.69,702.00 L502.03,700.52 L503.39,699.06 L504.78,697.62 L506.18,696.21 L507.62,694.82 L509.07,693.46 L510.55,692.12 L512.04,690.81 L513.56,689.52 L515.10,688.26 L516.67,687.03 L518.25,685.82 L519.85,684.65 L521.48,683.50 L523.13,682.38 L524.79,681.29 L526.48,680.23 L528.18,679.19 L529.90,678.18 L531.64,677.19 L533.39,676.22 L535.15,675.28 L536.93,674.36 L538.73,673.45 L540.53,672.57 L542.35,671.70 L544.18,670.85 L546.01,670.01 L547.86,669.19 L549.71,668.39 L551.57,667.59 L553.44,666.81 L555.32,666.04 L557.19,665.27 L559.08,664.52 L560.96,663.77 L562.85,663.03 L564.74,662.30 L566.63,661.57 L568.52,660.84 L570.41,660.12 L572.31,659.41 L574.20,658.70 L576.10,657.99 L577.99,657.30 L579.89,656.60 L581.79,655.92 L583.69,655.24 L585.59,654.56 L587.49,653.90 L589.40,653.24 L591.31,652.58 L593.21,651.94 L595.12,651.30 L597.03,650.67 L598.94,650.04 L600.86,649.43 L602.77,648.82 L604.69,648.22 L606.61,647.63 L608.53,647.05 L610.45,646.47 L612.38,645.91 L614.30,645.35 L616.23,644.80 L618.16,644.26 L620.10,643.73 L622.03,643.21 L623.97,642.71 L625.91,642.21 L627.85,641.72 L629.79,641.24 L631.74,640.77 L633.68,640.31 L635.63,639.86 L637.59,639.43 L639.54,639.00 L641.50,638.59 L643.46,638.19 L645.42,637.80 L647.39,637.42 L649.36,637.05 L651.33,636.70 L653.30,636.36 L655.28,636.03 L657.26,635.71 L659.24,635.41 L661.22,635.12 L663.21,634.84 L665.20,634.57 L667.19,634.31 L669.19,634.06 L671.18,633.83 L673.18,633.60 L675.18,633.38 L677.18,633.17 L679.19,632.96 L681.19,632.76 L683.20,632.57 L685.21,632.39 L687.21,632.21 L689.22,632.03 L691.23,631.86 L693.24,631.69 L695.26,631.53 L697.27,631.37 L699.28,631.21 L701.29,631.05 L703.30,630.89 L705.31,630.73 L707.32,630.58 L709.33,630.42 L711.34,630.26 L713.35,630.10 L715.36,629.93 L717.37,629.77 L719.38,629.60 L721.38,629.42 L723.38,629.25 L725.39,629.06 L727.39,628.87 L729.38,628.68 L731.38,628.47 L733.38,628.26 L735.37,628.05 L737.36,627.82 L739.35,627.58 L741.33,627.34 L743.31,627.08 L745.29,626.82 L747.27,626.54 L749.24,626.25 L749.23,644.87 L747.29,645.26 L745.35,645.63 L743.40,645.98 L741.44,646.30 L739.48,646.61 L737.51,646.90 L735.54,647.17 L733.56,647.43 L731.57,647.67 L729.58,647.90 L727.59,648.12 L725.60,648.32 L723.60,648.51 L721.59,648.69 L719.59,648.86 L717.58,649.02 L715.56,649.18 L713.55,649.33 L711.53,649.47 L709.52,649.60 L707.50,649.74 L705.48,649.86 L703.45,649.99 L701.43,650.12 L699.41,650.24 L697.39,650.37 L695.36,650.49 L693.34,650.62 L691.32,650.76 L689.30,650.89 L687.28,651.03 L685.26,651.18 L683.24,651.33 L681.23,651.50 L679.22,651.67 L677.21,651.85 L675.20,652.04 L673.19,652.24 L671.19,652.45 L669.20,652.68 L667.20,652.92 L665.21,653.18 L663.23,653.45 L661.25,653.74 L659.27,654.05 L657.30,654.37 L655.34,654.72 L653.38,655.08 L651.42,655.46 L649.47,655.86 L647.53,656.28 L645.59,656.71 L643.65,657.16 L641.72,657.63 L639.79,658.11 L637.87,658.60 L635.94,659.11 L634.03,659.63 L632.11,660.17 L630.20,660.71 L628.28,661.27 L626.38,661.84 L624.47,662.41 L622.56,663.00 L620.66,663.59 L618.76,664.20 L616.86,664.81 L614.96,665.43 L613.06,666.05 L611.16,666.68 L609.26,667.32 L607.37,667.96 L605.47,668.61 L603.57,669.26 L601.67,669.91 L599.77,670.56 L597.87,671.22 L595.97,671.87 L594.06,672.53 L592.16,673.19 L590.25,673.84 L588.34,674.50 L586.43,675.15 L584.52,675.80 L582.60,676.45 L580.68,677.10 L578.76,677.74 L576.83,678.37 L574.91,679.00 L572.97,679.62 L571.04,680.24 L569.09,680.85 L567.15,681.45 L565.20,682.05 L563.25,682.65 L561.30,683.24 L559.36,683.84 L557.41,684.45 L555.47,685.06 L553.54,685.68 L551.62,686.31 L549.71,686.96 L547.80,687.63 L545.92,688.31 L544.04,689.02 L542.18,689.76 L540.34,690.52 L538.52,691.31 L536.72,692.14 L534.94,693.00 L533.18,693.89 L531.45,694.83 L529.75,695.81 L528.07,696.84 L526.43,697.91 L524.81,699.03 L523.22,700.20 L521.66,701.40 L520.13,702.65 L518.63,703.94 L517.16,705.26 L515.71,706.62 L514.29,708.02 L512.89,709.44 L511.53,710.90 L510.18,712.38 L508.87,713.90 L507.57,715.43 L506.30,716.99 L505.06,718.58 L503.84,720.18 L502.64,721.80 L501.46,723.44 L500.31,725.10 L499.18,726.76 L498.07,728.44 L496.98,730.13 L495.91,731.83 L494.86,733.54 L493.83,735.26 L492.82,736.99 L491.83,738.73 L490.86,740.48 L489.91,742.24 L488.97,744.01 L488.05,745.79 L487.15,747.57 L486.26,749.37 L485.39,751.17 L484.53,752.98 L483.69,754.79 L482.87,756.62 L482.05,758.45 L481.25,760.28 L480.47,762.13 L479.69,763.98 L478.93,765.83 L478.18,767.69 L477.44,769.56 L476.71,771.43 L476.00,773.31 L475.29,775.19 L474.59,777.07 L473.90,778.96 L473.22,780.86 L472.55,782.75 L471.88,784.65 L471.23,786.56 L470.58,788.46 L469.93,790.37 L469.29,792.28 L468.66,794.20 L468.03,796.11 L467.41,798.03 L466.79,799.95 L466.18,801.87 L465.56,803.79 L464.95,805.71 L464.35,807.63 L463.74,809.55 L463.14,811.47 L462.54,813.39 L461.93,815.31 L461.33,817.23 L460.73,819.15 L460.13,821.07 L459.54,822.99 L458.94,824.91 L458.34,826.82 L457.75,828.74 L457.15,830.66 L456.56,832.58 L455.97,834.49 L455.38,836.41 L454.79,838.33 L454.20,840.24 L453.62,842.16 L453.03,844.08 L452.45,845.99 L451.87,847.91 L451.29,849.83 L450.71,851.75 L450.13,853.67 L449.56,855.58 L448.99,857.50 L448.42,859.42 L447.85,861.34 L447.28,863.26 L446.72,865.18 L446.15,867.11 L445.59,869.03 L445.03,870.95 L444.48,872.87 L443.92,874.80 L443.37,876.72 L442.82,878.65 L442.27,880.58 L441.73,882.51 L441.18,884.44 L440.64,886.37 L440.11,888.30 L439.57,890.23 L439.04,892.16 L438.51,894.10 L437.98,896.03 L437.46,897.97 L436.94,899.91 L436.42,901.85 L435.90,903.79 L435.39,905.73 L434.88,907.67 L434.37,909.62 L433.86,911.56 L433.34,913.51 L432.83,915.45 L432.32,917.40 L431.80,919.34 L431.29,921.28 L430.77,923.22 L430.24,925.16 L429.72,927.10 L429.19,929.04 L428.65,930.98 L428.11,932.91 L427.56,934.85 L427.00,936.78 L426.44,938.71 L425.87,940.63 L425.30,942.55 L424.71,944.47 L424.11,946.39 L423.51,948.30 L422.89,950.21 L422.27,952.11 L421.63,954.01 L420.98,955.91 L420.32,957.80 L419.64,959.68 L418.96,961.56 L418.25,963.44 L417.54,965.31 L416.80,967.18 L416.06,969.03 L415.29,970.89 L414.51,972.73 L413.72,974.57 L412.90,976.41 L412.07,978.23 L411.21,980.05 L410.34,981.86 L409.45,983.67 L408.54,985.47 L407.60,987.25 L406.65,989.03 L405.67,990.81 L404.67,992.57 L403.65,994.32 L402.61,996.06 L401.54,997.79 L400.44,999.51 L399.33,1001.20 L398.19,1002.88 L397.02,1004.54 L395.83,1006.18 L394.61,1007.80 L393.37,1009.39 L392.10,1010.96 L390.80,1012.50 L389.48,1014.01 L388.13,1015.49 L386.76,1016.93 L385.35,1018.35 L383.92,1019.73 L382.46,1021.07 L380.97,1022.37 L379.45,1023.64 L377.90,1024.86 L376.33,1026.04 L374.72,1027.18 L373.08,1028.27 L371.41,1029.31 L369.72,1030.31 L368.00,1031.28 L366.26,1032.21 L364.49,1033.10 L362.70,1033.96 L360.89,1034.79 L359.07,1035.59 L357.23,1036.37 L355.37,1037.13 L353.50,1037.87 L351.62,1038.59 L349.73,1039.30 L347.82,1039.99 L345.92,1040.67 L344.00,1041.35 L342.09,1042.02 L340.17,1042.69 L338.25,1043.36 L336.33,1044.03 L334.41,1044.70 L332.50,1045.39 L330.59,1046.08 L328.69,1046.78 L326.80,1047.50 L324.92,1048.23 L323.04,1048.98 L321.17,1049.74 L319.31,1050.50 L317.46,1051.28 L315.61,1052.07 L313.76,1052.87 L311.92,1053.67 L310.09,1054.49 L308.26,1055.30 L306.43,1056.13 L304.61,1056.96 L302.79,1057.79 L300.97,1058.63 L299.16,1059.47 L297.34,1060.31 L295.53,1061.15 L293.72,1061.99 L291.90,1062.83 L290.09,1063.67 L288.28,1064.51 L286.46,1065.34 L284.65,1066.17 L282.83,1067.00 L281.01,1067.82 L279.19,1068.63 L277.37,1069.44 L275.54,1070.23 L273.70,1071.02 L271.87,1071.80 L270.02,1072.58 L268.18,1073.33 L266.32,1074.08 L264.46,1074.82 L262.60,1075.54 L260.73,1076.25 L258.84,1076.94 L256.96,1077.62 L255.06,1078.28 L253.15,1078.92 L251.24,1079.54 L249.31,1080.15 L247.38,1080.74 L245.43,1081.30 L243.48,1081.85 L241.51,1082.37 Z" fill="#1f77b4" fill-opacity="0.1" stroke="#1f77b4" stroke-opacity="0.1" stroke-width="1.0" stroke-linejoin="round"/>
<path d="M751.50,639.00 L753.40,638.07 L755.24,637.06 L757.03,635.97 L758.75,634.81 L760.42,633.58 L762.03,632.28 L763.58,630.91 L765.08,629.48 L766.53,628.00 L767.92,626.46 L769.26,624.86 L770.55,623.22 L771.79,621.54 L772.98,619.81 L774.12,618.04 L775.21,616.23 L776.26,614.40 L777.26,612.53 L778.21,610.64 L779.12,608.72 L779.99,606.79 L780.82,604.84 L781.60,602.87 L782.34,600.89 L783.05,598.91 L783.71,596.92 L784.34,594.94 L784.93,592.95 L785.48,590.97 L786.00,589.00 L786.00,633.60 L783.82,633.86 L781.64,634.12 L779.46,634.39 L777.28,634.67 L775.10,634.96 L772.93,635.27 L770.75,635.60 L768.58,635.95 L766.42,636.33 L764.26,636.73 L762.11,637.18 L759.97,637.65 L757.84,638.17 L755.71,638.73 L753.60,639.34 L751.50,640.00 Z" fill="#1f77b4" fill-opacity="0.1" stroke="#1f77b4" stroke-opacity="0.1" stroke-width="1.0" stroke-linejoin="round"/>
<path d="M751.50,639.00 L753.46,638.24 L755.39,637.42 L757.30,636.54 L759.17,635.59 L761.02,634.57 L762.82,633.50 L764.60,632.37 L766.33,631.18 L768.02,629.93 L769.66,628.62 L771.26,627.26 L772.81,625.85 L774.31,624.38 L775.76,622.86 L777.15,621.28 L778.49,619.66 L779.76,617.99 L780.97,616.27 L782.11,614.51 L783.19,612.69 L784.20,610.84 L785.14,608.94 L786.00,607.00 L786.00,631.00 L783.83,631.51 L781.67,632.05 L779.51,632.59 L777.36,633.15 L775.21,633.71 L773.06,634.28 L770.91,634.85 L768.76,635.43 L766.61,636.01 L764.46,636.58 L762.30,637.14 L760.15,637.70 L757.99,638.25 L755.83,638.78 L753.67,639.30 L751.50,639.80 Z" fill="#1f77b4" fill-opacity="0.1" stroke="#1f77b4" stroke-opacity="0.1" stroke-width="1.0" stroke-linejoin="round"/>
<path d="M751.50,639.00 L753.59,638.39 L755.65,637.70 L757.70,636.95 L759.72,636.13 L761.72,635.25 L763.70,634.31 L765.64,633.30 L767.55,632.24 L769.43,631.12 L771.28,629.94 L773.09,628.70 L774.86,627.41 L776.59,626.07 L778.28,624.68 L779.92,623.24 L781.51,621.75 L783.06,620.21 L784.56,618.63 L786.00,617.00 L786.00,627.80 L784.00,628.56 L781.99,629.31 L779.98,630.05 L777.96,630.79 L775.95,631.52 L773.93,632.24 L771.91,632.95 L769.88,633.65 L767.85,634.35 L765.82,635.03 L763.79,635.71 L761.75,636.37 L759.71,637.02 L757.66,637.66 L755.61,638.29 L753.56,638.90 L751.50,639.50 Z" fill="#1f77b4" fill-opacity="0.1" stroke="#1f77b4" stroke-opacity="0.1" stroke-width="1.0" stroke-linejoin="round"/>
<path d="M80.00,1145.59 L81.96,1145.68 L83.94,1145.77 L85.94,1145.85 L87.95,1145.92 L89.97,1145.98 L92.00,1146.02 L94.04,1146.05 L96.09,1146.05 L98.13,1146.03 L100.18,1145.98 L102.22,1145.90 L104.25,1145.78 L106.28,1145.63 L108.30,1145.43 L110.30,1145.18 L112.29,1144.89 L114.25,1144.54 L116.20,1144.14 L118.13,1143.67 L120.02,1143.14 L121.89,1142.55 L123.73,1141.89 L125.54,1141.16 L127.32,1140.37 L129.08,1139.51 L130.81,1138.60 L132.52,1137.64 L134.20,1136.63 L135.87,1135.58 L137.52,1134.48 L139.15,1133.34 L140.76,1132.17 L142.37,1130.97 L143.96,1129.74 L145.54,1128.49 L147.12,1127.21 L148.68,1125.92 L150.25,1124.62 L151.81,1123.31 L153.36,1121.99 L154.92,1120.67 L156.48,1119.35 L158.05,1118.03 L159.62,1116.72 L161.19,1115.43 L162.77,1114.15 L164.37,1112.89 L165.98,1111.65 L167.59,1110.44 L169.23,1109.26 L170.87,1108.10 L172.53,1106.96 L174.20,1105.86 L175.88,1104.77 L177.58,1103.71 L179.29,1102.67 L181.00,1101.66 L182.73,1100.67 L184.47,1099.70 L186.22,1098.75 L187.98,1097.82 L189.76,1096.91 L191.54,1096.03 L193.33,1095.16 L195.13,1094.31 L196.94,1093.48 L198.75,1092.67 L200.58,1091.88 L202.41,1091.11 L204.26,1090.35 L206.11,1089.61 L207.96,1088.88 L209.83,1088.17 L211.70,1087.48 L213.58,1086.80 L215.47,1086.13 L217.36,1085.48 L219.25,1084.84 L221.16,1084.22 L223.06,1083.61 L224.98,1083.01 L226.90,1082.42 L228.82,1081.84 L230.75,1081.27 L232.68,1080.71 L234.61,1080.16 L236.54,1079.61 L238.48,1079.06 L240.42,1078.52 L242.35,1077.96 L244.28,1077.40 L246.21,1076.84 L248.13,1076.25 L250.05,1075.66 L251.96,1075.04 L253.87,1074.41 L255.76,1073.75 L257.65,1073.07 L259.52,1072.36 L261.38,1071.62 L263.24,1070.85 L265.08,1070.05 L266.91,1069.23 L268.74,1068.39 L270.55,1067.54 L272.37,1066.67 L274.17,1065.78 L275.98,1064.89 L277.78,1064.00 L279.58,1063.10 L281.38,1062.21 L283.18,1061.31 L284.97,1060.42 L286.77,1059.54 L288.58,1058.66 L290.38,1057.78 L292.18,1056.90 L293.99,1056.04 L295.79,1055.17 L297.60,1054.31 L299.41,1053.46 L301.23,1052.62 L303.04,1051.78 L304.86,1050.95 L306.68,1050.12 L308.51,1049.31 L310.34,1048.50 L312.18,1047.70 L314.02,1046.91 L315.86,1046.13 L317.71,1045.36 L319.56,1044.60 L321.42,1043.85 L323.29,1043.11 L325.16,1042.38 L327.03,1041.66 L328.92,1040.96 L330.81,1040.27 L332.70,1039.59 L334.61,1038.92 L336.52,1038.27 L338.44,1037.62 L340.36,1036.99 L342.28,1036.35 L344.20,1035.71 L346.12,1035.07 L348.03,1034.41 L349.93,1033.74 L351.83,1033.05 L353.71,1032.34 L355.58,1031.60 L357.43,1030.83 L359.26,1030.02 L361.07,1029.17 L362.86,1028.27 L364.62,1027.33 L366.36,1026.33 L368.06,1025.28 L369.74,1024.18 L371.39,1023.03 L373.00,1021.84 L374.59,1020.61 L376.15,1019.33 L377.67,1018.02 L379.17,1016.67 L380.63,1015.29 L382.07,1013.88 L383.47,1012.45 L384.84,1010.99 L386.17,1009.51 L387.48,1008.00 L388.75,1006.47 L390.00,1004.93 L391.21,1003.36 L392.40,1001.77 L393.56,1000.17 L394.68,998.54 L395.79,996.90 L396.86,995.24 L397.92,993.56 L398.94,991.86 L399.94,990.15 L400.92,988.43 L401.88,986.68 L402.81,984.93 L403.72,983.16 L404.61,981.38 L405.48,979.58 L406.33,977.77 L407.16,975.95 L407.97,974.12 L408.77,972.28 L409.55,970.43 L410.31,968.57 L411.05,966.70 L411.78,964.82 L412.50,962.93 L413.20,961.04 L413.89,959.14 L414.57,957.23 L415.23,955.32 L415.88,953.40 L416.53,951.48 L417.16,949.55 L417.78,947.62 L418.40,945.69 L419.01,943.75 L419.61,941.81 L420.20,939.87 L420.79,937.93 L421.37,935.99 L421.95,934.05 L422.52,932.11 L423.09,930.17 L423.66,928.23 L424.22,926.29 L424.78,924.35 L425.33,922.41 L425.88,920.47 L426.43,918.54 L426.98,916.60 L427.52,914.66 L428.06,912.73 L428.60,910.79 L429.13,908.85 L429.67,906.92 L430.20,904.98 L430.73,903.05 L431.26,901.12 L431.78,899.18 L432.31,897.25 L432.83,895.32 L433.36,893.38 L433.88,891.45 L434.40,889.52 L434.92,887.59 L435.44,885.66 L435.96,883.73 L436.48,881.80 L437.00,879.87 L437.52,877.94 L438.05,876.01 L438.57,874.09 L439.09,872.16 L439.61,870.23 L440.14,868.30 L440.66,866.38 L441.19,864.45 L441.72,862.53 L442.25,860.60 L442.78,858.68 L443.31,856.75 L443.85,854.83 L444.38,852.90 L444.92,850.98 L445.47,849.06 L446.01,847.14 L446.56,845.21 L447.11,843.29 L447.67,841.37 L448.23,839.45 L448.79,837.53 L449.35,835.61 L449.92,833.69 L450.50,831.77 L451.07,829.85 L451.65,827.93 L452.24,826.01 L452.83,824.10 L453.42,822.18 L454.02,820.26 L454.63,818.35 L455.23,816.43 L455.85,814.51 L456.46,812.60 L457.08,810.69 L457.70,808.77 L458.33,806.86 L458.96,804.95 L459.60,803.04 L460.24,801.13 L460.89,799.22 L461.53,797.31 L462.19,795.41 L462.84,793.50 L463.50,791.60 L464.17,789.69 L464.83,787.79 L465.51,785.89 L466.18,783.99 L466.86,782.09 L467.54,780.19 L468.23,778.30 L468.92,776.40 L469.62,774.51 L470.31,772.62 L471.02,770.73 L471.72,768.84 L472.43,766.95 L473.14,765.07 L473.86,763.19 L474.59,761.31 L475.32,759.43 L476.06,757.56 L476.81,755.69 L477.57,753.83 L478.34,751.97 L479.12,750.12 L479.91,748.28 L480.72,746.44 L481.54,744.61 L482.37,742.78 L483.21,740.97 L484.08,739.16 L484.96,737.36 L485.85,735.57 L486.77,733.80 L487.70,732.03 L488.66,730.27 L489.63,728.52 L490.63,726.79 L491.65,725.07 L492.69,723.36 L493.76,721.66 L494.85,719.98 L495.96,718.31 L497.10,716.66 L498.27,715.02 L499.47,713.41 L500.69,711.82 L501.95,710.25 L503.23,708.71 L504.55,707.20 L505.90,705.72 L507.28,704.28 L508.70,702.87 L510.15,701.49 L511.64,700.16 L513.16,698.87 L514.71,697.62 L516.29,696.40 L517.91,695.23 L519.55,694.09 L521.22,692.98 L522.91,691.91 L524.63,690.88 L526.37,689.87 L528.13,688.91 L529.91,687.97 L531.71,687.06 L533.52,686.19 L535.35,685.34 L537.19,684.53 L539.05,683.74 L540.91,682.98 L542.78,682.24 L544.66,681.53 L546.55,680.84 L548.44,680.17 L550.34,679.51 L552.24,678.87 L554.15,678.23 L556.06,677.60 L557.97,676.98 L559.88,676.36 L561.79,675.74 L563.70,675.12 L565.61,674.49 L567.52,673.85 L569.42,673.21 L571.31,672.55 L573.21,671.87 L575.09,671.19 L576.98,670.50 L578.86,669.80 L580.74,669.09 L582.62,668.38 L584.50,667.67 L586.37,666.95 L588.25,666.24 L590.13,665.53 L592.01,664.82 L593.89,664.12 L595.77,663.43 L597.66,662.75 L599.55,662.07 L601.44,661.41 L603.34,660.76 L605.24,660.12 L607.14,659.49 L609.05,658.87 L610.95,658.26 L612.87,657.66 L614.78,657.07 L616.70,656.49 L618.62,655.92 L620.55,655.36 L622.47,654.82 L624.40,654.28 L626.34,653.76 L628.27,653.24 L630.21,652.74 L632.15,652.24 L634.09,651.76 L636.04,651.29 L637.99,650.83 L639.94,650.38 L641.89,649.94 L643.85,649.51 L645.81,649.09 L647.77,648.68 L649.73,648.29 L651.70,647.90 L653.67,647.53 L655.63,647.16 L657.61,646.81 L659.58,646.47 L661.56,646.14 L663.54,645.82 L665.52,645.51 L667.50,645.21 L669.48,644.92 L671.47,644.65 L673.45,644.38 L675.44,644.13 L677.43,643.88 L679.43,643.65 L681.42,643.43 L683.42,643.22 L685.42,643.02 L687.41,642.83 L689.41,642.66 L691.42,642.49 L693.42,642.34 L695.42,642.19 L697.43,642.05 L699.44,641.92 L701.44,641.79 L703.45,641.66 L705.46,641.54 L707.46,641.41 L709.47,641.28 L711.47,641.15 L713.48,641.01 L715.48,640.87 L717.49,640.72 L719.49,640.56 L721.49,640.39 L723.49,640.20 L725.49,640.01 L727.48,639.79 L729.48,639.56 L731.47,639.32 L733.45,639.05 L735.44,638.76 L737.42,638.45 L739.40,638.11 L741.38,637.75 L743.35,637.36 L745.32,636.94 L747.28,636.49 L749.24,636.01 L751.20,635.49" fill="none" stroke="#1f77b4" stroke-width="2.08" stroke-linecap="butt" stroke-linejoin="round" />
<path d="M751.50,639.00 L753.59,638.43 L755.66,637.81 L757.71,637.14 L759.75,636.43 L761.77,635.67 L763.77,634.87 L765.76,634.03 L767.73,633.15 L769.68,632.24 L771.61,631.28 L773.53,630.29 L775.43,629.26 L777.31,628.20 L779.18,627.11 L781.03,626.00 L782.86,624.85 L784.67,623.67 L786.46,622.47 L788.24,621.25 L790.00,620.00" fill="none" stroke="#1f77b4" stroke-width="2.08" stroke-linecap="butt" stroke-linejoin="round" />
<path d="M80.00,1145.59 L81.96,1145.68 L83.94,1145.77 L85.93,1145.85 L87.94,1145.92 L89.96,1145.98 L91.99,1146.03 L94.02,1146.05 L96.06,1146.06 L98.11,1146.04 L100.15,1145.99 L102.19,1145.91 L104.22,1145.79 L106.24,1145.63 L108.26,1145.43 L110.26,1145.19 L112.24,1144.90 L114.21,1144.55 L116.15,1144.15 L118.07,1143.69 L119.97,1143.16 L121.84,1142.57 L123.67,1141.91 L125.48,1141.18 L127.26,1140.39 L129.02,1139.54 L130.74,1138.64 L132.45,1137.68 L134.13,1136.67 L135.80,1135.62 L137.44,1134.53 L139.07,1133.39 L140.69,1132.22 L142.29,1131.03 L143.88,1129.80 L145.46,1128.55 L147.03,1127.28 L148.60,1125.99 L150.16,1124.69 L151.72,1123.38 L153.27,1122.06 L154.83,1120.74 L156.39,1119.42 L157.95,1118.11 L159.51,1116.81 L161.09,1115.51 L162.67,1114.23 L164.26,1112.98 L165.86,1111.74 L167.48,1110.53 L169.11,1109.34 L170.75,1108.18 L172.41,1107.05 L174.07,1105.94 L175.75,1104.86 L177.44,1103.79 L179.15,1102.76 L180.86,1101.74 L182.59,1100.75 L184.32,1099.78 L186.07,1098.83 L187.83,1097.90 L189.60,1096.99 L191.37,1096.11 L193.16,1095.24 L194.96,1094.39 L196.76,1093.56 L198.58,1092.75 L200.40,1091.96 L202.23,1091.18 L204.07,1090.43 L205.92,1089.68 L207.77,1088.96 L209.63,1088.25 L211.50,1087.55 L213.38,1086.87 L215.26,1086.21 L217.15,1085.56 L219.04,1084.92 L220.94,1084.29 L222.84,1083.68 L224.75,1083.08 L226.67,1082.49 L228.59,1081.91 L230.51,1081.34 L232.44,1080.78 L234.37,1080.23 L236.30,1079.68 L238.23,1079.13 L240.17,1078.59 L242.10,1078.03 L244.03,1077.48 L245.95,1076.91 L247.87,1076.33 L249.79,1075.74 L251.70,1075.13 L253.60,1074.50 L255.49,1073.84 L257.38,1073.17 L259.25,1072.46 L261.11,1071.73 L262.96,1070.96 L264.80,1070.17 L266.64,1069.35 L268.46,1068.52 L270.27,1067.66 L272.08,1066.80 L273.89,1065.92 L275.69,1065.03 L277.49,1064.14 L279.29,1063.24 L281.09,1062.35 L282.88,1061.46 L284.68,1060.57 L286.48,1059.68 L288.28,1058.80 L290.08,1057.93 L291.88,1057.06 L293.68,1056.19 L295.49,1055.33 L297.29,1054.47 L299.10,1053.62 L300.91,1052.77 L302.73,1051.94 L304.55,1051.11 L306.37,1050.28 L308.19,1049.47 L310.02,1048.66 L311.85,1047.86 L313.68,1047.07 L315.52,1046.29 L317.37,1045.51 L319.22,1044.75 L321.07,1044.00 L322.93,1043.26 L324.79,1042.53 L326.67,1041.81 L328.54,1041.10 L330.43,1040.40 L332.31,1039.72 L334.21,1039.05 L336.11,1038.39 L338.02,1037.74 L339.93,1037.10 L341.85,1036.46 L343.76,1035.82 L345.67,1035.17 L347.58,1034.52 L349.48,1033.85 L351.37,1033.16 L353.25,1032.45 L355.12,1031.71 L356.97,1030.95 L358.80,1030.15 L360.62,1029.31 L362.42,1028.43 L364.19,1027.50 L365.93,1026.53 L367.65,1025.50 L369.34,1024.42 L371.01,1023.30 L372.64,1022.13 L374.25,1020.92 L375.83,1019.66 L377.37,1018.37 L378.89,1017.05 L380.37,1015.69 L381.82,1014.30 L383.24,1012.88 L384.62,1011.44 L385.97,1009.97 L387.29,1008.47 L388.57,1006.96 L389.82,1005.42 L391.04,1003.86 L392.23,1002.28 L393.39,1000.68 L394.52,999.06 L395.62,997.42 L396.70,995.76 L397.75,994.08 L398.77,992.38 L399.77,990.67 L400.74,988.94 L401.69,987.20 L402.61,985.44 L403.52,983.67 L404.40,981.88 L405.26,980.09 L406.10,978.27 L406.93,976.45 L407.73,974.61 L408.52,972.77 L409.28,970.91 L410.04,969.05 L410.77,967.17 L411.50,965.29 L412.21,963.40 L412.90,961.51 L413.58,959.60 L414.25,957.70 L414.91,955.78 L415.56,953.86 L416.21,951.94 L416.84,950.02 L417.46,948.09 L418.08,946.16 L418.69,944.23 L419.29,942.30 L419.89,940.36 L420.48,938.43 L421.08,936.50 L421.66,934.57 L422.25,932.64 L422.83,930.71 L423.40,928.78 L423.97,926.85 L424.54,924.92 L425.11,923.00 L425.67,921.07 L426.23,919.14 L426.79,917.22 L427.35,915.29 L427.90,913.36 L428.45,911.44 L429.00,909.51 L429.54,907.59 L430.08,905.66 L430.63,903.74 L431.16,901.81 L431.70,899.89 L432.24,897.97 L432.77,896.04 L433.31,894.12 L433.84,892.20 L434.37,890.27 L434.90,888.35 L435.43,886.43 L435.96,884.50 L436.48,882.58 L437.01,880.66 L437.54,878.73 L438.07,876.81 L438.59,874.89 L439.12,872.96 L439.64,871.04 L440.17,869.12 L440.70,867.19 L441.23,865.27 L441.75,863.35 L442.28,861.42 L442.81,859.50 L443.34,857.58 L443.87,855.65 L444.41,853.73 L444.94,851.80 L445.47,849.88 L446.01,847.95 L446.55,846.02 L447.09,844.10 L447.63,842.17 L448.18,840.24 L448.72,838.32 L449.27,836.39 L449.82,834.46 L450.37,832.53 L450.93,830.60 L451.49,828.68 L452.05,826.75 L452.62,824.82 L453.19,822.90 L453.76,820.97 L454.34,819.04 L454.92,817.12 L455.50,815.19 L456.09,813.27 L456.68,811.35 L457.28,809.43 L457.88,807.51 L458.49,805.59 L459.10,803.68 L459.72,801.76 L460.34,799.85 L460.97,797.94 L461.60,796.03 L462.24,794.12 L462.89,792.22 L463.54,790.31 L464.20,788.41 L464.86,786.52 L465.54,784.62 L466.22,782.73 L466.90,780.84 L467.59,778.95 L468.29,777.07 L469.00,775.19 L469.72,773.31 L470.44,771.44 L471.17,769.57 L471.91,767.70 L472.66,765.84 L473.41,763.98 L474.18,762.12 L474.95,760.27 L475.73,758.42 L476.53,756.58 L477.33,754.74 L478.14,752.90 L478.96,751.07 L479.79,749.25 L480.63,747.43 L481.48,745.61 L482.34,743.80 L483.21,741.99 L484.09,740.19 L484.98,738.40 L485.88,736.61 L486.80,734.82 L487.72,733.04 L488.66,731.27 L489.61,729.50 L490.57,727.74 L491.54,725.99 L492.52,724.24 L493.53,722.50 L494.55,720.78 L495.59,719.07 L496.66,717.38 L497.75,715.71 L498.88,714.07 L500.04,712.46 L501.23,710.87 L502.46,709.32 L503.74,707.80 L505.05,706.33 L506.42,704.89 L507.82,703.49 L509.27,702.14 L510.77,700.82 L512.29,699.54 L513.86,698.30 L515.45,697.09 L517.08,695.92 L518.74,694.78 L520.42,693.68 L522.12,692.61 L523.85,691.57 L525.59,690.56 L527.35,689.58 L529.13,688.62 L530.91,687.70 L532.71,686.80 L534.51,685.92 L536.33,685.07 L538.15,684.24 L539.98,683.43 L541.82,682.65 L543.67,681.88 L545.53,681.13 L547.39,680.40 L549.26,679.69 L551.13,678.98 L553.01,678.30 L554.90,677.62 L556.79,676.96 L558.68,676.30 L560.58,675.66 L562.48,675.02 L564.39,674.39 L566.29,673.77 L568.20,673.15 L570.11,672.53 L572.02,671.92 L573.93,671.30 L575.85,670.69 L577.76,670.07 L579.67,669.46 L581.58,668.84 L583.49,668.21 L585.40,667.58 L587.30,666.94 L589.20,666.30 L591.11,665.65 L593.01,665.00 L594.90,664.34 L596.80,663.68 L598.70,663.02 L600.59,662.35 L602.49,661.69 L604.38,661.03 L606.28,660.37 L608.17,659.71 L610.07,659.05 L611.96,658.40 L613.86,657.75 L615.76,657.11 L617.66,656.48 L619.56,655.85 L621.46,655.22 L623.36,654.61 L625.27,654.01 L627.17,653.41 L629.08,652.83 L631.00,652.26 L632.91,651.70 L634.83,651.16 L636.75,650.63 L638.68,650.11 L640.61,649.61 L642.54,649.13 L644.48,648.66 L646.42,648.22 L648.37,647.79 L650.32,647.38 L652.27,646.99 L654.23,646.62 L656.20,646.28 L658.17,645.95 L660.15,645.65 L662.13,645.37 L664.11,645.11 L666.10,644.86 L668.10,644.63 L670.09,644.41 L672.10,644.21 L674.10,644.03 L676.10,643.85 L678.11,643.69 L680.12,643.54 L682.14,643.39 L684.15,643.26 L686.17,643.13 L688.18,643.01 L690.20,642.89 L692.22,642.78 L694.23,642.67 L696.25,642.56 L698.27,642.45 L700.28,642.34 L702.30,642.23 L704.31,642.12 L706.32,642.00 L708.33,641.88 L710.34,641.76 L712.35,641.62 L714.35,641.48 L716.35,641.33 L718.34,641.17 L720.34,641.00 L722.33,640.82 L724.31,640.63 L726.29,640.42 L728.26,640.20 L730.23,639.96 L732.20,639.70" fill="none" stroke="#ff7f0e" stroke-width="10.42" stroke-linecap="round" stroke-linejoin="round"/>
<line x1="750.95" y1="1145.5" x2="750.95" y2="592.5" stroke="#1f77b4" stroke-opacity="0.5" stroke-width="2.08" stroke-dasharray="7.72 3.34"/></g>
<rect x="86.5" y="592.5" width="699.0" height="553.0" fill="none" stroke="#000" stroke-width="1.11" stroke-linejoin="miter"/>
<line x1="81.64" y1="1145.5" x2="86.5" y2="1145.5" stroke="#000" stroke-width="1.11"/>
<text x="76.6" y="1150.0" text-anchor="end" class="t">0</text>
<line x1="81.64" y1="1023.5" x2="86.5" y2="1023.5" stroke="#000" stroke-width="1.11"/>
<text x="76.6" y="1028.0" text-anchor="end" class="t">5000</text>
<line x1="81.64" y1="901.5" x2="86.5" y2="901.5" stroke="#000" stroke-width="1.11"/>
<text x="76.6" y="906.0" text-anchor="end" class="t">10000</text>
<line x1="81.64" y1="778.5" x2="86.5" y2="778.5" stroke="#000" stroke-width="1.11"/>
<text x="76.6" y="783.0" text-anchor="end" class="t">15000</text>
<line x1="81.64" y1="656.5" x2="86.5" y2="656.5" stroke="#000" stroke-width="1.11"/>
<text x="76.6" y="661.0" text-anchor="end" class="t">20000</text>
<line x1="86.5" y1="1145.5" x2="86.5" y2="1150.36" stroke="#000" stroke-width="1.11"/>
<line x1="120.5" y1="1145.5" x2="120.5" y2="1150.36" stroke="#000" stroke-width="1.11"/>
<line x1="232.5" y1="1145.5" x2="232.5" y2="1150.36" stroke="#000" stroke-width="1.11"/>
<line x1="344.5" y1="1145.5" x2="344.5" y2="1150.36" stroke="#000" stroke-width="1.11"/>
<line x1="457.5" y1="1145.5" x2="457.5" y2="1150.36" stroke="#000" stroke-width="1.11"/>
<line x1="567.5" y1="1145.5" x2="567.5" y2="1150.36" stroke="#000" stroke-width="1.11"/>
<line x1="679.5" y1="1145.5" x2="679.5" y2="1150.36" stroke="#000" stroke-width="1.11"/>
<line x1="785.5" y1="1145.5" x2="785.5" y2="1150.36" stroke="#000" stroke-width="1.11"/>
<line x1="157.5" y1="1145.5" x2="157.5" y2="1148.28" stroke="#000" stroke-width="0.83"/>
<line x1="195.5" y1="1145.5" x2="195.5" y2="1148.28" stroke="#000" stroke-width="0.83"/>
<line x1="270.5" y1="1145.5" x2="270.5" y2="1148.28" stroke="#000" stroke-width="0.83"/>
<line x1="308.5" y1="1145.5" x2="308.5" y2="1148.28" stroke="#000" stroke-width="0.83"/>
<line x1="382.5" y1="1145.5" x2="382.5" y2="1148.28" stroke="#000" stroke-width="0.83"/>
<line x1="419.5" y1="1145.5" x2="419.5" y2="1148.28" stroke="#000" stroke-width="0.83"/>
<line x1="495.5" y1="1145.5" x2="495.5" y2="1148.28" stroke="#000" stroke-width="0.83"/>
<line x1="529.5" y1="1145.5" x2="529.5" y2="1148.28" stroke="#000" stroke-width="0.83"/>
<line x1="605.0" y1="1145.5" x2="605.0" y2="1148.28" stroke="#000" stroke-width="0.83"/>
<line x1="642.5" y1="1145.5" x2="642.5" y2="1148.28" stroke="#000" stroke-width="0.83"/>
<line x1="716.5" y1="1145.5" x2="716.5" y2="1148.28" stroke="#000" stroke-width="0.83"/>
<line x1="754.5" y1="1145.5" x2="754.5" y2="1148.28" stroke="#000" stroke-width="0.83"/>
<text x="120.5" y="1165.8" text-anchor="middle" class="t">Apr</text>
<text x="232.5" y="1165.8" text-anchor="middle" class="t">Jul</text>
<text x="344.5" y="1165.8" text-anchor="middle" class="t">Oct</text>
<text x="457.5" y="1165.8" text-anchor="middle" class="t">Jan</text>
<text x="567.5" y="1165.8" text-anchor="middle" class="t">Apr</text>
<text x="679.5" y="1165.8" text-anchor="middle" class="t">Jul</text>
<text x="457" y="1181.5" text-anchor="middle" class="t">2021</text>
<rect x="93.35" y="599.35" width="98.15" height="25.2" rx="2.8" fill="#fff" fill-opacity="0.8" stroke="#cccccc" stroke-width="1.11"/>
<line x1="97.9" y1="610.95" x2="128.1" y2="610.95" stroke="#1f77b4" stroke-width="2.08"/>
<text x="137.8" y="615.35" class="t">deaths</text>
<text x="397.6" y="36" text-anchor="middle" style="font-family:'DejaVu Sans','Liberation Sans',sans-serif;font-size:16.67px;fill:#000">Ohio 28 days</text>
</svg></body></html>
